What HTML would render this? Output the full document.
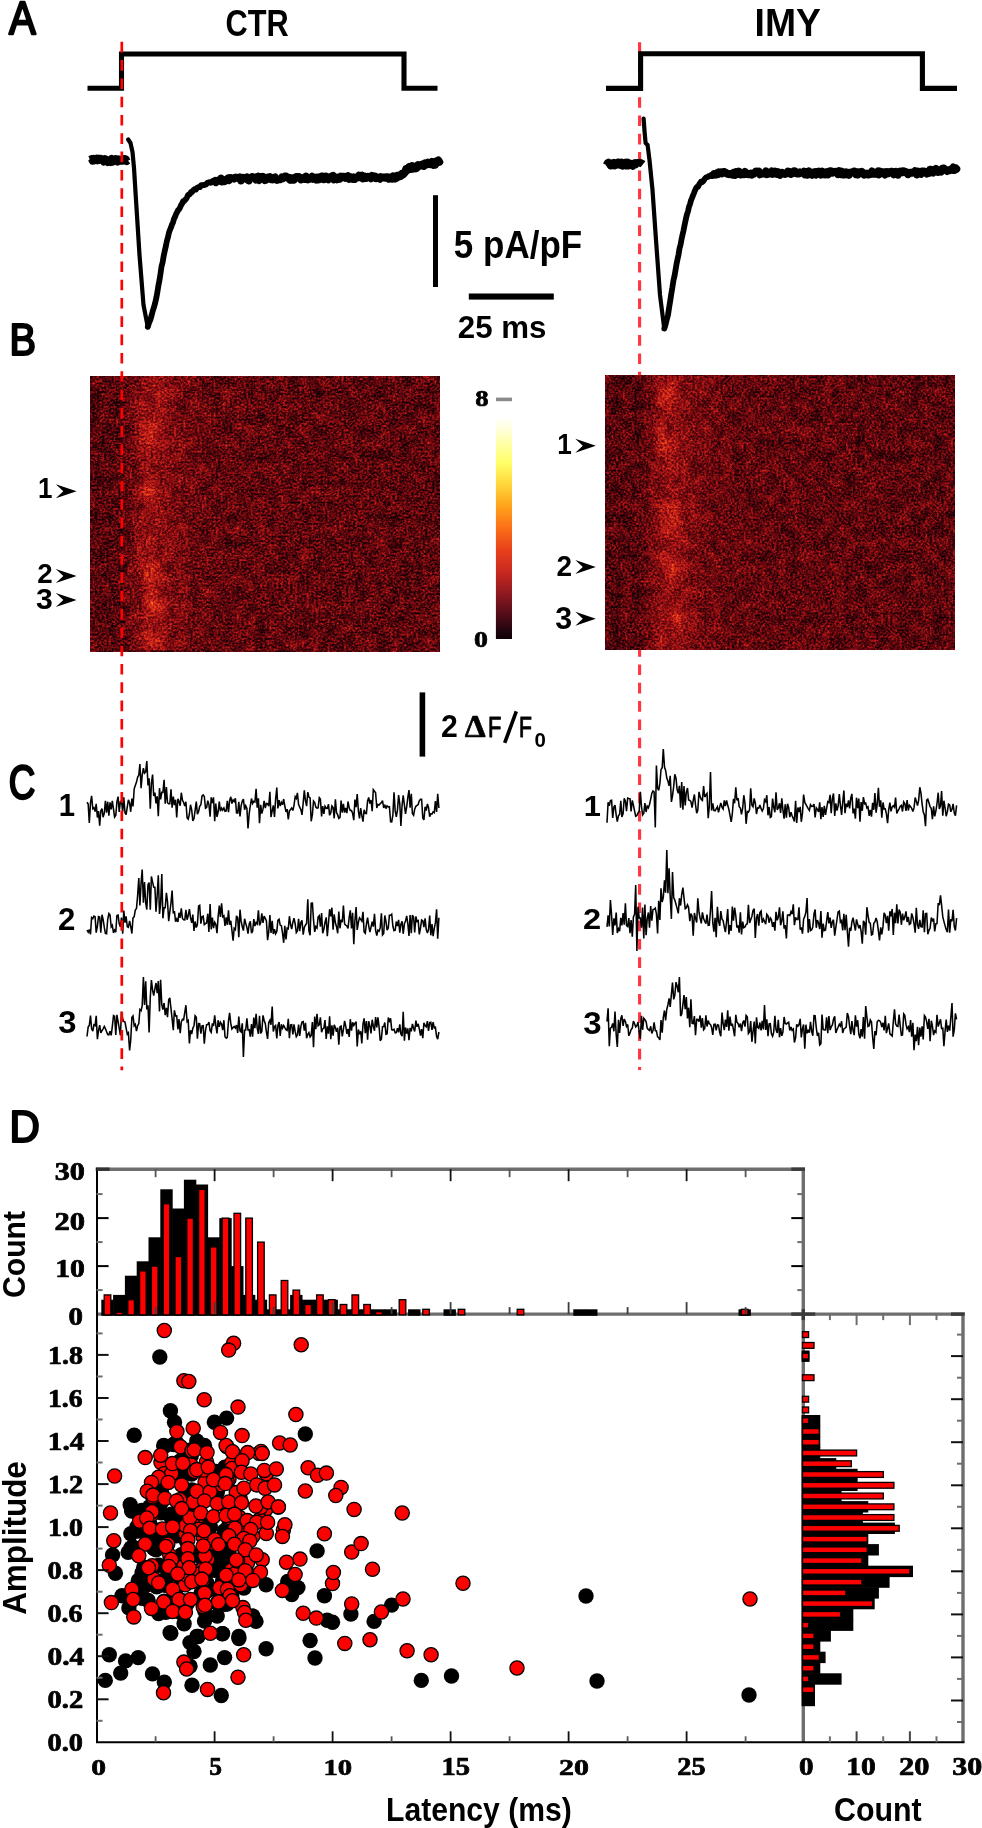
<!DOCTYPE html>
<html><head><meta charset="utf-8"><title>Figure</title>
<style>html,body{margin:0;padding:0;background:#fff}svg{display:block}text{fill:#000}</style></head>
<body><svg width="982" height="1828" viewBox="0 0 982 1828" font-family="Liberation Sans, sans-serif">
<rect width="982" height="1828" fill="#fff"/>
<line x1="639.6" y1="42.3" x2="639.6" y2="1070" stroke="#ff3540" stroke-width="3.1" stroke-dasharray="10.6 7.7"/>
<path d="M87.5 88.2 H121.5 V54 H404 V88.2 H437.5" fill="none" stroke="#000" stroke-width="5.1" stroke-linejoin="miter"/>
<path d="M606 88.4 H640.6 V53.8 H922.4 V88.4 H957" fill="none" stroke="#000" stroke-width="5.1" stroke-linejoin="miter"/>
<path d="M90.5 159.6 L91.5 158.9 L92.5 160.9 L93.5 158.6 L94.6 160.5 L95.6 159.8 L96.6 158.6 L97.6 160.4 L98.6 158.5 L99.6 160.1 L100.6 158.6 L101.6 158.7 L102.7 160.1 L103.7 161.7 L104.7 158.9 L105.7 159.3 L106.7 160.9 L107.7 162.2 L108.7 160.7 L109.8 160.0 L110.8 162.3 L111.8 158.6 L112.8 161.9 L113.8 159.6 L114.8 159.0 L115.8 158.9 L116.9 159.7 L117.9 161.7 L118.9 159.2 L119.9 160.8 L120.9 161.0 L121.9 160.0 L122.9 160.7 L123.9 158.7 L125.0 158.7 L126.0 159.3 L127.0 161.2 L128.0 160.5" fill="none" stroke="#000" stroke-width="7.6" stroke-linejoin="round"/>
<path d="M128.2 139.5 L130.5 143.0 L132.5 152.0 L134.0 168.0 L136.0 200.0 L139.5 255.0 L143.5 305.0 L147.8 327.0" fill="none" stroke="#000" stroke-width="4.2" stroke-linejoin="round" stroke-linecap="round"/>
<path d="M147.8 326.9 L149.0 323.0 L150.3 319.8 L151.5 315.9 L152.7 311.1 L153.9 307.5 L155.2 302.9 L156.4 297.5 L157.4 291.9 L158.4 285.6 L159.5 280.1 L160.5 273.6 L161.5 266.6 L162.6 262.4 L163.8 255.3 L164.9 250.4 L166.0 245.5 L167.0 240.5 L168.0 237.2 L169.0 232.5 L170.0 229.8 L171.0 227.4 L172.0 224.5 L173.0 222.4 L174.0 218.8 L175.0 216.9 L176.0 214.2 L177.0 212.4 L178.0 210.4 L179.0 209.4 L180.0 207.8 L181.0 205.2 L182.0 203.8 L183.0 201.4 L184.0 201.2 L185.0 199.8 L186.0 199.1 L187.0 197.4 L188.0 195.1 L189.0 194.4 L190.0 194.1 L191.0 192.0 L192.0 192.0 L193.0 190.6 L194.0 189.6 L195.0 188.9 L196.0 189.5 L197.0 187.8 L198.0 187.3 L199.0 187.0 L200.0 187.2 L201.0 185.2 L202.0 185.2 L203.0 185.0 L204.1 185.2 L205.1 184.7 L206.2 184.4 L207.2 182.9 L208.2 182.7 L209.3 182.2 L210.3 182.8 L211.3 182.7 L212.4 181.0 L213.4 180.8 L214.4 180.7 L215.4 180.5 L216.4 180.7 L217.5 180.6 L218.5 179.8 L219.5 179.1 L220.6 179.6 L221.6 179.3 L222.6 179.3" fill="none" stroke="#000" stroke-width="5.8" stroke-linejoin="round" stroke-linecap="round"/>
<path d="M215.0 180.8 L216.0 182.3 L217.0 181.2 L218.0 180.4 L219.0 180.8 L220.0 180.9 L221.0 178.4 L222.0 181.7 L223.0 181.2 L224.0 181.5 L225.0 181.1 L226.0 179.5 L227.0 179.4 L228.0 178.2 L229.0 180.3 L230.0 177.9 L231.0 177.9 L232.0 178.4 L233.0 178.2 L234.0 178.8 L235.0 177.6 L236.0 177.4 L237.0 177.9 L238.0 177.7 L239.0 178.7 L240.0 177.2 L241.0 180.6 L242.0 179.5 L243.0 177.6 L244.0 177.9 L245.0 178.3 L246.0 178.3 L247.0 177.3 L248.0 180.1 L249.0 180.6 L250.0 178.5 L251.0 178.5 L252.0 176.9 L253.0 177.0 L254.0 177.9 L255.0 177.6 L256.0 179.8 L257.0 177.2 L258.0 176.6 L259.0 180.3 L260.0 178.6 L261.0 177.1 L262.0 178.6 L263.0 176.6 L264.0 178.5 L265.0 180.3 L266.0 179.9 L267.0 179.2 L268.0 177.4 L269.0 177.8 L270.0 177.0 L271.0 179.4 L272.0 178.5 L273.0 179.4 L274.0 177.6 L275.0 177.2 L276.0 179.5 L277.0 180.2 L278.0 179.7 L279.0 179.5 L280.0 179.5 L281.0 179.2 L282.0 177.1 L283.0 178.3 L284.0 177.6 L285.0 176.3 L286.0 176.3 L287.0 177.3 L288.0 177.2 L289.0 178.9 L290.0 179.9 L291.0 177.9 L292.0 179.8 L293.0 180.0 L294.0 179.9 L295.0 177.5 L296.0 176.9 L297.0 176.9 L298.0 176.8 L299.0 176.8 L300.0 178.5 L301.0 179.6 L302.0 179.3 L303.0 177.9 L304.0 178.6 L305.0 179.1 L306.0 176.3 L307.0 178.6 L308.0 179.6 L309.0 179.0 L310.0 178.9 L311.0 177.8 L312.0 176.6 L313.0 179.0 L314.0 177.2 L315.0 179.1 L316.0 179.7 L317.0 177.4 L318.0 177.4 L319.0 179.6 L320.0 178.7 L321.0 176.5 L322.0 176.3 L323.0 176.4 L324.0 179.4 L325.0 179.0 L326.0 176.3 L327.0 179.0 L328.0 179.6 L329.0 178.3 L330.0 177.1 L331.0 177.9 L332.0 176.2 L333.0 175.7 L334.0 179.5 L335.0 178.2 L336.0 177.7 L337.0 179.4 L338.0 177.4 L339.0 179.1 L340.0 178.9 L341.0 176.4 L342.0 176.6 L343.0 176.7 L344.0 176.5 L345.0 177.9 L346.0 176.6 L347.0 177.2 L348.0 176.0 L349.0 179.2 L350.0 176.9 L351.0 177.3 L352.0 177.8 L353.0 179.1 L354.0 177.1 L355.0 179.1 L356.0 177.4 L357.0 177.6 L358.0 177.5 L359.0 175.5 L360.0 177.2 L361.0 176.1 L362.0 175.4 L363.0 178.6 L364.0 176.1 L365.0 177.2 L366.0 178.2 L367.0 177.6 L368.0 176.6 L369.0 177.4 L370.0 177.5 L371.0 178.4 L372.0 175.7 L373.0 177.5 L374.0 176.3 L375.0 176.4 L376.0 178.3 L377.0 177.3 L378.0 177.5 L379.0 178.3 L380.0 178.9 L381.0 177.0 L382.0 177.6 L383.0 177.2 L384.0 177.2 L385.0 177.9 L386.0 177.0 L387.0 177.3 L388.0 177.0 L389.0 178.9 L390.0 177.9 L391.0 178.6 L392.0 178.9 L393.0 176.1 L394.0 177.3 L395.0 178.8 L396.0 178.4 L397.0 175.6 L398.0 175.5 L399.0 176.8 L400.0 175.3 L401.0 176.0 L402.0 173.8 L403.0 174.7 L404.0 173.6 L405.0 172.6 L406.0 168.9 L407.0 170.5 L408.0 169.5 L409.0 166.8 L410.0 169.0 L411.0 169.2 L412.0 166.0 L413.0 168.8 L414.0 166.4 L415.0 166.6 L416.0 168.5 L417.0 167.7 L418.0 164.8 L419.0 165.7 L420.0 165.9 L421.0 165.0 L422.0 164.3 L423.0 164.6 L424.0 166.1 L425.0 163.1 L426.0 165.0 L427.1 164.3 L428.1 162.4 L429.1 163.5 L430.2 164.4 L431.2 163.8 L432.2 161.8 L433.3 165.2 L434.3 164.2 L435.4 164.7 L436.4 161.1 L437.4 161.5 L438.5 160.4 L439.5 162.0" fill="none" stroke="#000" stroke-width="7.6" stroke-linejoin="round" stroke-linecap="round"/>
<path d="M606.5 165.1 L607.5 163.1 L608.5 162.5 L609.5 163.7 L610.6 165.7 L611.6 165.3 L612.6 163.1 L613.6 162.7 L614.6 165.7 L615.6 164.4 L616.6 164.9 L617.7 162.4 L618.7 162.3 L619.7 164.9 L620.7 163.8 L621.7 162.4 L622.7 165.9 L623.7 164.7 L624.8 165.4 L625.8 162.5 L626.8 165.6 L627.8 162.4 L628.8 165.6 L629.8 164.0 L630.8 163.6 L631.8 164.4 L632.9 165.9 L633.9 163.3 L634.9 162.8 L635.9 164.3 L636.9 163.2 L637.9 162.7 L638.9 162.9 L640.0 162.5 L641.0 163.1 L642.0 163.5 L643.0 164.3" fill="none" stroke="#000" stroke-width="7.6" stroke-linejoin="round"/>
<path d="M643.6 118.5 L644.6 132.0 L645.6 143.0 L647.6 145.0 L649.5 160.0 L652.5 190.0 L656.0 240.0 L660.0 295.0 L664.3 329.0" fill="none" stroke="#000" stroke-width="4.2" stroke-linejoin="round" stroke-linecap="round"/>
<path d="M664.3 328.6 L665.5 324.8 L666.8 319.3 L668.0 315.0 L669.1 307.6 L670.2 301.1 L671.3 293.7 L672.4 287.4 L673.5 280.1 L674.5 276.0 L675.5 270.3 L676.5 264.2 L677.5 259.4 L678.5 254.8 L679.5 248.5 L680.5 245.0 L681.5 239.5 L682.5 234.8 L683.5 230.6 L684.7 224.5 L685.8 219.3 L687.0 214.3 L688.0 211.4 L689.0 206.7 L690.0 204.1 L691.0 200.4 L692.0 198.0 L693.0 195.4 L694.0 193.1 L695.0 190.4 L696.0 188.3 L697.0 186.9 L698.0 186.8 L699.0 184.7 L700.0 183.2 L701.0 181.8 L702.0 182.2 L703.0 181.4 L704.0 180.1 L705.0 178.5 L706.0 177.5 L707.0 177.1 L708.0 176.9 L709.0 175.9 L710.0 175.9 L711.0 175.1 L712.0 176.2 L713.0 176.0 L714.0 175.1 L715.0 174.4 L716.0 175.5 L717.0 174.2 L718.0 174.1 L719.0 173.3 L720.0 174.0" fill="none" stroke="#000" stroke-width="5.8" stroke-linejoin="round" stroke-linecap="round"/>
<path d="M714.0 174.0 L715.0 174.3 L716.0 174.4 L717.0 173.1 L718.0 174.2 L719.0 172.1 L720.0 173.1 L721.0 172.3 L722.0 173.5 L723.0 172.0 L724.0 171.8 L725.0 172.9 L726.0 172.5 L727.0 173.8 L728.0 173.5 L729.0 174.4 L730.0 173.9 L731.0 174.1 L732.0 174.7 L733.0 172.8 L734.0 172.5 L735.0 175.1 L736.0 171.8 L737.0 174.1 L738.0 173.8 L739.0 171.4 L740.0 174.5 L741.0 174.7 L742.0 173.7 L743.0 174.1 L744.0 174.4 L745.0 171.7 L746.0 173.3 L747.0 173.2 L748.0 174.5 L749.0 174.4 L750.0 174.5 L751.0 173.5 L752.0 174.7 L753.0 173.9 L754.0 173.9 L755.0 172.1 L756.0 171.3 L757.0 171.7 L758.0 172.6 L759.0 171.5 L760.0 174.5 L761.0 173.3 L762.0 173.6 L763.0 173.6 L764.0 173.8 L765.0 173.1 L766.0 171.1 L767.0 174.3 L768.0 174.1 L769.0 173.1 L770.0 173.2 L771.0 173.7 L772.0 171.3 L773.0 174.0 L774.0 172.1 L775.0 171.4 L776.0 172.1 L777.0 174.0 L778.0 171.9 L779.0 174.0 L780.0 175.0 L781.0 173.0 L782.0 172.6 L783.0 173.0 L784.0 173.8 L785.0 174.1 L786.0 173.5 L787.0 173.6 L788.0 171.3 L789.0 171.6 L790.0 172.0 L791.0 174.0 L792.0 172.2 L793.0 173.3 L794.0 171.1 L795.0 171.3 L796.0 172.1 L797.0 173.7 L798.0 173.8 L799.0 173.7 L800.0 172.2 L801.0 173.1 L802.0 172.9 L803.0 172.9 L804.0 171.5 L805.0 174.6 L806.0 171.8 L807.0 174.9 L808.0 174.7 L809.0 171.1 L810.0 172.8 L811.0 174.3 L812.0 174.9 L813.0 172.8 L814.0 172.1 L815.0 171.8 L816.0 174.8 L817.0 171.8 L818.0 173.3 L819.0 171.6 L820.0 173.1 L821.0 174.8 L822.0 171.5 L823.0 174.3 L824.0 173.0 L825.0 174.5 L826.0 173.8 L827.0 171.9 L828.0 174.6 L829.0 172.9 L830.0 171.1 L831.0 171.0 L832.0 173.0 L833.0 172.8 L834.0 172.2 L835.0 171.6 L836.0 172.4 L837.0 172.3 L838.0 174.4 L839.0 171.0 L840.0 174.0 L841.0 174.4 L842.0 171.5 L843.0 174.7 L844.0 173.9 L845.0 174.6 L846.0 172.2 L847.0 172.5 L848.0 172.6 L849.0 175.0 L850.0 173.4 L851.0 172.4 L852.0 172.7 L853.0 172.1 L854.0 171.2 L855.0 171.4 L856.0 174.3 L857.0 172.1 L858.0 174.7 L859.0 172.0 L860.0 172.1 L861.0 173.0 L862.0 171.8 L863.0 172.5 L864.0 174.8 L865.0 174.5 L866.0 174.2 L867.0 173.5 L868.0 174.7 L869.0 174.8 L870.0 173.2 L871.0 173.9 L872.0 171.2 L873.0 173.9 L874.0 172.8 L875.0 174.0 L876.0 173.6 L877.0 172.1 L878.0 171.2 L879.0 174.7 L880.0 171.5 L881.0 172.8 L882.0 172.3 L883.0 172.1 L884.0 173.9 L885.0 174.8 L886.0 172.0 L887.0 173.6 L888.0 172.1 L889.0 173.2 L890.0 172.5 L891.0 171.6 L892.0 171.6 L893.0 171.7 L894.0 174.5 L895.0 172.9 L896.0 171.8 L897.0 174.5 L898.0 174.9 L899.0 172.7 L900.0 171.4 L901.0 171.6 L902.0 171.2 L903.0 172.2 L904.0 171.2 L905.0 171.8 L906.0 171.9 L907.0 173.1 L908.0 174.4 L909.0 173.8 L910.0 172.5 L911.0 172.5 L912.0 172.9 L913.0 172.3 L914.0 172.2 L915.0 171.1 L916.0 171.9 L917.0 174.7 L918.0 171.3 L919.0 172.8 L920.0 173.3 L921.0 174.1 L922.0 171.4 L923.0 171.5 L924.0 171.3 L925.0 171.7 L926.0 171.8 L927.0 173.7 L928.0 173.2 L929.0 173.1 L930.0 169.6 L931.0 169.5 L932.0 172.1 L933.0 172.7 L934.0 170.9 L935.0 171.2 L936.0 168.7 L937.0 170.1 L938.0 172.1 L939.0 171.6 L940.0 171.6 L941.0 171.9 L942.0 168.9 L943.0 168.2 L944.0 168.3 L945.0 169.6 L946.0 170.2 L947.1 171.2 L948.1 170.3 L949.2 169.9 L950.2 170.3 L951.3 169.1 L952.3 169.4 L953.4 167.3 L954.4 170.2 L955.5 168.0 L956.5 169.0" fill="none" stroke="#000" stroke-width="7.6" stroke-linejoin="round" stroke-linecap="round"/>
<rect x="433" y="195.2" width="5" height="91.8" fill="#000"/>
<rect x="468.8" y="293.5" width="85" height="6.1" fill="#000"/>
<defs>
<filter id="heat" x="0" y="0" width="1" height="1" color-interpolation-filters="sRGB">
 <feTurbulence type="fractalNoise" baseFrequency="0.43 0.47" numOctaves="2" seed="11" result="n1"/>
 <feTurbulence type="fractalNoise" baseFrequency="0.09 0.08" numOctaves="2" seed="5" result="n2"/>
 <feComposite in="n1" in2="n2" operator="arithmetic" k1="0" k2="0.72" k3="0.28" k4="0" result="n"/>
 <feColorMatrix in="n" type="matrix" values="0.74 0 0 0 -0.262  0.74 0 0 0 -0.262  0.74 0 0 0 -0.262  0 0 0 0 1" result="g"/>
 <feComposite in="g" in2="SourceGraphic" operator="arithmetic" k1="0" k2="1" k3="1" k4="0" result="s"/>
 <feComponentTransfer in="s">
  <feFuncR type="table" tableValues="0.08 0.31 0.55 0.765 0.90 0.98 1 1 1 1 1"/>
  <feFuncG type="table" tableValues="0 0.02 0.055 0.118 0.235 0.43 0.65 0.85 1 1 1"/>
  <feFuncB type="table" tableValues="0.02 0.047 0.07 0.098 0.098 0.098 0.12 0.24 0.4 0.66 0.88"/>
  <feFuncA type="linear" slope="0" intercept="1"/>
 </feComponentTransfer>
</filter>
<filter id="heat2" x="0" y="0" width="1" height="1" color-interpolation-filters="sRGB">
 <feTurbulence type="fractalNoise" baseFrequency="0.43 0.47" numOctaves="2" seed="29" result="n1"/>
 <feTurbulence type="fractalNoise" baseFrequency="0.09 0.08" numOctaves="2" seed="8" result="n2"/>
 <feComposite in="n1" in2="n2" operator="arithmetic" k1="0" k2="0.72" k3="0.28" k4="0" result="n"/>
 <feColorMatrix in="n" type="matrix" values="0.74 0 0 0 -0.262  0.74 0 0 0 -0.262  0.74 0 0 0 -0.262  0 0 0 0 1" result="g"/>
 <feComposite in="g" in2="SourceGraphic" operator="arithmetic" k1="0" k2="1" k3="1" k4="0" result="s"/>
 <feComponentTransfer in="s">
  <feFuncR type="table" tableValues="0.08 0.31 0.55 0.765 0.90 0.98 1 1 1 1 1"/>
  <feFuncG type="table" tableValues="0 0.02 0.055 0.118 0.235 0.43 0.65 0.85 1 1 1"/>
  <feFuncB type="table" tableValues="0.02 0.047 0.07 0.098 0.098 0.098 0.12 0.24 0.4 0.66 0.88"/>
  <feFuncA type="linear" slope="0" intercept="1"/>
 </feComponentTransfer>
</filter>
<linearGradient id="stripeL" gradientUnits="userSpaceOnUse" x1="90" x2="440" y1="0" y2="0">
 <stop offset="0" stop-color="#000"/><stop offset="0.09" stop-color="#000"/><stop offset="0.155" stop-color="#181818"/><stop offset="0.2" stop-color="#181818"/>
 <stop offset="0.27" stop-color="#0c0c0c"/><stop offset="0.36" stop-color="#050505"/><stop offset="1" stop-color="#020202"/>
</linearGradient>
<linearGradient id="stripeR" gradientUnits="userSpaceOnUse" x1="605" x2="955" y1="0" y2="0">
 <stop offset="0" stop-color="#000"/><stop offset="0.10" stop-color="#000"/><stop offset="0.16" stop-color="#181818"/><stop offset="0.205" stop-color="#181818"/>
 <stop offset="0.28" stop-color="#0c0c0c"/><stop offset="0.37" stop-color="#050505"/><stop offset="1" stop-color="#020202"/>
</linearGradient>
<radialGradient id="blob"><stop offset="0" stop-color="#fff" stop-opacity="0.13"/><stop offset="1" stop-color="#fff" stop-opacity="0"/></radialGradient>
<linearGradient id="cbar" x1="0" x2="0" y1="0" y2="1">
 <stop offset="0" stop-color="#ffffff"/>
 <stop offset="0.05" stop-color="#ffffe0"/>
 <stop offset="0.12" stop-color="#ffffa8"/>
 <stop offset="0.21" stop-color="#ffff66"/>
 <stop offset="0.30" stop-color="#ffd83c"/>
 <stop offset="0.40" stop-color="#ffa41c"/>
 <stop offset="0.50" stop-color="#fc7018"/>
 <stop offset="0.60" stop-color="#e8401c"/>
 <stop offset="0.70" stop-color="#c82820"/>
 <stop offset="0.80" stop-color="#8c1820"/>
 <stop offset="0.90" stop-color="#4c0c18"/>
 <stop offset="0.97" stop-color="#1c040c"/>
 <stop offset="1" stop-color="#100208"/>
</linearGradient>
</defs>
<g filter="url(#heat)"><rect x="90.2" y="376" width="349.8" height="274" fill="url(#stripeL)"/><ellipse cx="150" cy="430" rx="16" ry="24" fill="url(#blob)"/><ellipse cx="148" cy="490" rx="14" ry="14" fill="url(#blob)"/><ellipse cx="152" cy="572" rx="16" ry="20" fill="url(#blob)"/><ellipse cx="155" cy="605" rx="16" ry="22" fill="url(#blob)"/><ellipse cx="150" cy="640" rx="14" ry="12" fill="url(#blob)"/></g>
<g filter="url(#heat2)"><rect x="605.3" y="375.5" width="349.7" height="274.3" fill="url(#stripeR)"/><ellipse cx="668" cy="395" rx="14" ry="18" fill="url(#blob)"/><ellipse cx="667" cy="446" rx="14" ry="16" fill="url(#blob)"/><ellipse cx="672" cy="520" rx="14" ry="30" fill="url(#blob)"/><ellipse cx="672" cy="566" rx="14" ry="14" fill="url(#blob)"/><ellipse cx="678" cy="618" rx="14" ry="16" fill="url(#blob)"/></g>
<rect x="495.9" y="416.8" width="16.1" height="222.2" fill="url(#cbar)"/>
<rect x="496" y="397.6" width="16" height="3.6" fill="#8a8a8a"/>
<path d="M76.6 491.2 L55.8 484.2 L63.3 491.2 L55.8 498.2 Z" fill="#000"/>
<path d="M76.6 575.9 L55.8 568.9 L63.3 575.9 L55.8 582.9 Z" fill="#000"/>
<path d="M76.6 599.9 L55.8 592.9 L63.3 599.9 L55.8 606.9 Z" fill="#000"/>
<path d="M595.8 445.7 L575.3 438.7 L582.8 445.7 L575.3 452.7 Z" fill="#000"/>
<path d="M595.8 567.1 L575.3 560.1 L582.8 567.1 L575.3 574.1 Z" fill="#000"/>
<path d="M595.8 618.8 L575.3 611.8 L582.8 618.8 L575.3 625.8 Z" fill="#000"/>
<rect x="419.6" y="692.4" width="5.6" height="64.2" fill="#000"/>
<path d="M516.3 711.3 L504.7 742.9" stroke="#000" stroke-width="3.6" fill="none"/>
<path d="M87.0 802.3 L88.2 804.1 L89.3 822.9 L90.5 802.9 L91.6 795.8 L92.8 808.7 L93.9 807.7 L95.1 811.6 L96.2 803.8 L97.4 817.5 L98.5 811.1 L99.7 825.6 L100.8 810.9 L102.0 808.6 L103.1 817.2 L104.3 813.2 L105.4 800.9 L106.6 812.7 L107.7 801.7 L108.9 815.8 L110.0 802.3 L111.2 809.4 L112.3 800.8 L113.5 809.2 L114.6 817.1 L115.8 815.3 L116.9 801.9 L118.1 796.6 L119.2 812.0 L120.4 801.5 L121.5 800.9 L122.7 811.8 L123.8 797.4 L125.0 812.7 L126.1 814.7 L127.3 806.8 L128.4 799.9 L129.6 803.0 L130.7 811.8 L131.9 798.6 L133.0 806.4 L134.2 788.8 L135.3 785.5 L136.5 782.1 L137.6 777.3 L138.8 775.1 L139.9 764.0 L141.1 788.3 L142.2 775.2 L143.4 768.2 L144.5 773.2 L145.7 771.9 L146.8 761.1 L148.0 785.5 L149.1 778.2 L150.3 808.7 L151.4 783.1 L152.6 774.6 L153.7 796.0 L154.9 792.5 L156.0 803.3 L157.2 796.2 L158.3 816.3 L159.5 788.2 L160.6 799.3 L161.8 792.3 L162.9 792.4 L164.1 779.9 L165.2 803.6 L166.4 787.1 L167.5 802.7 L168.7 803.8 L169.8 803.8 L171.0 789.3 L172.1 807.6 L173.3 796.7 L174.4 805.1 L175.6 799.7 L176.7 817.4 L177.9 798.8 L179.0 801.6 L180.2 805.7 L181.3 792.7 L182.5 800.3 L183.6 802.4 L184.8 806.1 L185.9 801.8 L187.1 817.9 L188.2 819.1 L189.4 814.0 L190.5 804.8 L191.7 809.9 L192.8 820.8 L194.0 818.6 L195.1 810.4 L196.3 801.5 L197.4 814.2 L198.6 811.5 L199.7 806.4 L200.9 804.8 L202.0 795.9 L203.2 794.9 L204.3 796.5 L205.5 808.2 L206.6 807.6 L207.8 800.7 L208.9 804.3 L210.1 816.7 L211.2 797.3 L212.4 803.1 L213.5 797.3 L214.7 821.1 L215.8 803.5 L217.0 816.9 L218.1 812.0 L219.3 801.6 L220.4 811.1 L221.6 808.0 L222.7 810.1 L223.9 807.9 L225.0 811.2 L226.2 810.9 L227.3 800.8 L228.5 812.2 L229.6 800.7 L230.8 796.8 L231.9 803.6 L233.1 799.9 L234.2 801.5 L235.4 798.4 L236.5 812.8 L237.7 813.1 L238.8 801.8 L240.0 816.5 L241.1 805.9 L242.3 801.0 L243.4 799.0 L244.6 809.7 L245.7 805.8 L246.9 808.5 L248.0 828.5 L249.2 813.6 L250.3 805.9 L251.5 798.5 L252.6 803.5 L253.8 801.4 L254.9 802.0 L256.1 788.9 L257.2 807.7 L258.4 798.3 L259.5 823.1 L260.7 804.8 L261.8 813.6 L263.0 809.2 L264.1 800.8 L265.3 808.2 L266.4 803.4 L267.6 803.7 L268.7 806.2 L269.9 791.9 L271.0 817.0 L272.2 810.8 L273.3 805.4 L274.5 817.0 L275.6 799.2 L276.8 787.6 L277.9 808.5 L279.1 800.1 L280.2 806.0 L281.4 802.4 L282.5 804.8 L283.7 799.0 L284.8 806.0 L286.0 811.9 L287.1 809.2 L288.3 819.4 L289.4 810.9 L290.6 809.5 L291.7 808.0 L292.9 810.5 L294.0 805.3 L295.2 796.7 L296.3 798.4 L297.4 792.9 L298.6 804.6 L299.7 807.1 L300.9 809.8 L302.0 814.8 L303.2 802.9 L304.3 790.4 L305.5 801.2 L306.6 806.1 L307.8 792.1 L308.9 797.0 L310.1 798.0 L311.2 821.3 L312.4 814.5 L313.5 801.0 L314.7 802.6 L315.8 807.0 L317.0 808.1 L318.1 807.9 L319.3 797.6 L320.4 799.0 L321.6 816.5 L322.7 806.1 L323.9 814.0 L325.0 806.2 L326.2 808.2 L327.3 808.4 L328.5 804.3 L329.6 815.3 L330.8 812.7 L331.9 806.0 L333.1 807.6 L334.2 818.3 L335.4 799.3 L336.5 812.6 L337.7 814.9 L338.8 818.3 L340.0 817.3 L341.1 800.5 L342.3 812.6 L343.4 803.9 L344.6 812.7 L345.7 807.8 L346.9 813.2 L348.0 801.5 L349.2 807.8 L350.3 810.5 L351.5 810.6 L352.6 813.3 L353.8 820.2 L354.9 799.6 L356.1 807.1 L357.2 794.1 L358.4 811.1 L359.5 818.4 L360.7 808.0 L361.8 815.4 L363.0 821.7 L364.1 809.8 L365.3 813.3 L366.4 813.6 L367.6 800.9 L368.7 797.5 L369.9 803.6 L371.0 800.0 L372.2 811.1 L373.3 789.7 L374.5 791.2 L375.6 792.7 L376.8 808.0 L377.9 804.5 L379.1 805.0 L380.2 803.6 L381.4 802.7 L382.5 800.5 L383.7 807.9 L384.8 804.7 L386.0 808.6 L387.1 805.8 L388.3 807.0 L389.4 806.7 L390.6 821.7 L391.7 821.8 L392.9 814.9 L394.0 792.3 L395.2 810.9 L396.3 816.9 L397.5 809.8 L398.6 795.1 L399.8 804.1 L400.9 826.0 L402.1 805.0 L403.2 795.4 L404.4 804.9 L405.5 813.8 L406.7 806.9 L407.8 797.6 L409.0 790.0 L410.1 807.8 L411.3 793.7 L412.4 813.5 L413.6 815.2 L414.7 809.1 L415.9 806.3 L417.0 805.4 L418.2 804.5 L419.3 800.8 L420.5 799.2 L421.6 799.2 L422.8 818.1 L423.9 819.9 L425.1 806.7 L426.2 810.5 L427.4 804.0 L428.5 807.4 L429.7 816.6 L430.8 813.9 L432.0 814.0 L433.1 811.8 L434.3 812.6 L435.4 801.1 L436.6 812.0 L437.7 793.7 L438.9 808.0" fill="none" stroke="#000" stroke-width="1.55" stroke-linejoin="miter" stroke-miterlimit="3"/>
<path d="M87.0 930.0 L88.2 932.2 L89.3 929.5 L90.5 934.3 L91.6 917.5 L92.8 918.7 L93.9 916.0 L95.1 916.7 L96.2 932.7 L97.4 926.1 L98.5 916.6 L99.7 917.0 L100.8 932.8 L102.0 914.8 L103.1 919.5 L104.3 927.4 L105.4 933.4 L106.6 933.8 L107.7 919.5 L108.9 913.5 L110.0 914.9 L111.2 926.8 L112.3 925.2 L113.5 933.0 L114.6 930.1 L115.8 932.1 L116.9 915.5 L118.1 915.0 L119.2 923.6 L120.4 926.9 L121.5 917.6 L122.7 933.8 L123.8 910.6 L125.0 922.7 L126.1 916.4 L127.3 926.8 L128.4 927.4 L129.6 920.9 L130.7 926.3 L131.9 933.5 L133.0 917.9 L134.2 916.7 L135.3 910.0 L136.5 908.4 L137.6 895.9 L138.8 878.0 L139.9 905.5 L141.1 882.6 L142.2 869.6 L143.4 902.8 L144.5 882.0 L145.7 902.9 L146.8 909.5 L148.0 884.4 L149.1 882.6 L150.3 909.7 L151.4 876.5 L152.6 882.2 L153.7 887.1 L154.9 887.4 L156.0 911.7 L157.2 895.2 L158.3 875.3 L159.5 913.9 L160.6 904.3 L161.8 874.0 L162.9 918.3 L164.1 907.7 L165.2 907.7 L166.4 892.9 L167.5 901.6 L168.7 921.2 L169.8 912.2 L171.0 902.8 L172.1 890.6 L173.3 913.5 L174.4 911.1 L175.6 921.7 L176.7 919.0 L177.9 921.9 L179.0 912.8 L180.2 917.7 L181.3 908.4 L182.5 918.5 L183.6 919.7 L184.8 919.8 L185.9 909.9 L187.1 919.7 L188.2 915.6 L189.4 909.1 L190.5 917.7 L191.7 922.9 L192.8 914.5 L194.0 930.9 L195.1 921.5 L196.3 927.5 L197.4 924.6 L198.6 905.9 L199.7 905.3 L200.9 923.7 L202.0 916.8 L203.2 916.2 L204.3 924.7 L205.5 923.5 L206.6 923.0 L207.8 913.7 L208.9 932.0 L210.1 904.1 L211.2 929.3 L212.4 917.5 L213.5 928.1 L214.7 922.2 L215.8 924.2 L217.0 933.2 L218.1 917.0 L219.3 905.5 L220.4 916.9 L221.6 903.4 L222.7 916.8 L223.9 915.8 L225.0 925.9 L226.2 917.3 L227.3 925.0 L228.5 910.4 L229.6 924.7 L230.8 920.8 L231.9 930.1 L233.1 940.6 L234.2 928.3 L235.4 929.7 L236.5 915.8 L237.7 917.7 L238.8 937.2 L240.0 909.7 L241.1 920.9 L242.3 926.7 L243.4 930.6 L244.6 918.8 L245.7 923.3 L246.9 927.5 L248.0 933.6 L249.2 923.9 L250.3 921.4 L251.5 933.1 L252.6 931.3 L253.8 919.2 L254.9 926.1 L256.1 922.5 L257.2 924.0 L258.4 910.3 L259.5 925.3 L260.7 922.9 L261.8 913.4 L263.0 923.0 L264.1 916.2 L265.3 918.3 L266.4 921.0 L267.6 940.1 L268.7 932.2 L269.9 915.0 L271.0 933.0 L272.2 920.9 L273.3 934.0 L274.5 929.2 L275.6 933.7 L276.8 931.4 L277.9 920.3 L279.1 919.2 L280.2 925.1 L281.4 925.8 L282.5 933.0 L283.7 942.8 L284.8 925.7 L286.0 939.5 L287.1 928.2 L288.3 928.8 L289.4 916.2 L290.6 924.8 L291.7 929.1 L292.9 922.2 L294.0 918.2 L295.2 924.0 L296.3 932.7 L297.4 931.1 L298.6 918.7 L299.7 931.1 L300.9 922.3 L302.0 920.3 L303.2 934.7 L304.3 927.5 L305.5 925.0 L306.6 923.4 L307.8 899.4 L308.9 931.0 L310.1 935.2 L311.2 903.1 L312.4 903.0 L313.5 919.7 L314.7 931.8 L315.8 926.5 L317.0 928.0 L318.1 917.1 L319.3 915.6 L320.4 926.6 L321.6 913.1 L322.7 933.3 L323.9 929.1 L325.0 922.5 L326.2 917.3 L327.3 936.2 L328.5 923.0 L329.6 909.2 L330.8 916.3 L331.9 907.7 L333.1 929.7 L334.2 914.3 L335.4 922.8 L336.5 926.7 L337.7 933.3 L338.8 911.6 L340.0 928.3 L341.1 919.6 L342.3 922.2 L343.4 905.5 L344.6 924.0 L345.7 925.1 L346.9 926.0 L348.0 928.4 L349.2 917.3 L350.3 910.4 L351.5 928.5 L352.6 912.7 L353.8 944.2 L354.9 920.7 L356.1 907.1 L357.2 930.0 L358.4 922.4 L359.5 917.8 L360.7 919.4 L361.8 921.1 L363.0 911.9 L364.1 931.9 L365.3 933.2 L366.4 924.1 L367.6 917.6 L368.7 926.0 L369.9 932.2 L371.0 927.3 L372.2 921.7 L373.3 926.6 L374.5 913.9 L375.6 930.3 L376.8 935.5 L377.9 930.1 L379.1 931.1 L380.2 927.9 L381.4 913.2 L382.5 935.0 L383.7 933.5 L384.8 915.5 L386.0 921.6 L387.1 930.2 L388.3 927.7 L389.4 915.2 L390.6 915.2 L391.7 914.1 L392.9 926.3 L394.0 930.7 L395.2 930.2 L396.3 921.5 L397.5 926.1 L398.6 919.8 L399.8 932.7 L400.9 924.3 L402.1 921.3 L403.2 933.8 L404.4 923.8 L405.5 921.3 L406.7 915.9 L407.8 923.5 L409.0 936.0 L410.1 915.1 L411.3 933.1 L412.4 915.0 L413.6 917.3 L414.7 932.4 L415.9 916.3 L417.0 921.5 L418.2 920.7 L419.3 934.4 L420.5 928.1 L421.6 920.0 L422.8 920.7 L423.9 927.1 L425.1 918.4 L426.2 929.3 L427.4 932.9 L428.5 929.7 L429.7 915.6 L430.8 935.3 L432.0 924.1 L433.1 936.2 L434.3 928.2 L435.4 922.9 L436.6 909.2 L437.7 938.7 L438.9 917.8" fill="none" stroke="#000" stroke-width="1.55" stroke-linejoin="miter" stroke-miterlimit="3"/>
<path d="M87.0 1036.5 L88.2 1026.9 L89.3 1025.5 L90.5 1015.5 L91.6 1028.7 L92.8 1031.1 L93.9 1024.8 L95.1 1025.6 L96.2 1015.9 L97.4 1039.1 L98.5 1030.7 L99.7 1025.2 L100.8 1032.8 L102.0 1030.7 L103.1 1028.8 L104.3 1026.5 L105.4 1028.6 L106.6 1031.7 L107.7 1034.6 L108.9 1034.8 L110.0 1031.3 L111.2 1035.3 L112.3 1026.7 L113.5 1015.6 L114.6 1016.2 L115.8 1035.0 L116.9 1014.9 L118.1 1021.6 L119.2 1028.1 L120.4 1035.5 L121.5 1011.5 L122.7 1018.9 L123.8 1021.5 L125.0 1022.0 L126.1 1028.0 L127.3 1034.3 L128.4 1032.9 L129.6 1050.4 L130.7 1040.5 L131.9 1017.2 L133.0 1015.9 L134.2 1025.8 L135.3 1024.3 L136.5 1031.1 L137.6 1025.7 L138.8 1023.6 L139.9 1009.5 L141.1 1010.7 L142.2 1005.6 L143.4 977.0 L144.5 1005.0 L145.7 981.2 L146.8 1009.4 L148.0 1005.2 L149.1 1032.5 L150.3 997.1 L151.4 980.0 L152.6 990.2 L153.7 995.5 L154.9 988.6 L156.0 983.0 L157.2 993.1 L158.3 981.0 L159.5 1011.4 L160.6 979.7 L161.8 1004.7 L162.9 1009.7 L164.1 1003.0 L165.2 1015.1 L166.4 1007.9 L167.5 1017.2 L168.7 999.7 L169.8 997.9 L171.0 1008.6 L172.1 1018.6 L173.3 1030.2 L174.4 1010.3 L175.6 1016.0 L176.7 1015.9 L177.9 1029.3 L179.0 1019.1 L180.2 1033.2 L181.3 1022.0 L182.5 1019.3 L183.6 1019.9 L184.8 1012.3 L185.9 1005.2 L187.1 1021.7 L188.2 1020.5 L189.4 1043.4 L190.5 1030.3 L191.7 1034.1 L192.8 1028.3 L194.0 1025.7 L195.1 1015.7 L196.3 1017.2 L197.4 1038.8 L198.6 1023.7 L199.7 1023.8 L200.9 1033.6 L202.0 1025.9 L203.2 1025.7 L204.3 1043.8 L205.5 1030.7 L206.6 1024.7 L207.8 1024.6 L208.9 1022.1 L210.1 1030.7 L211.2 1032.3 L212.4 1023.3 L213.5 1025.9 L214.7 1015.3 L215.8 1025.5 L217.0 1033.4 L218.1 1020.2 L219.3 1026.9 L220.4 1022.2 L221.6 1024.1 L222.7 1030.2 L223.9 1020.2 L225.0 1036.8 L226.2 1038.2 L227.3 1037.3 L228.5 1020.8 L229.6 1012.8 L230.8 1023.4 L231.9 1029.0 L233.1 1027.6 L234.2 1026.5 L235.4 1028.1 L236.5 1025.1 L237.7 1033.0 L238.8 1016.6 L240.0 1030.8 L241.1 1031.9 L242.3 1023.3 L243.4 1057.0 L244.6 1030.1 L245.7 1030.0 L246.9 1018.3 L248.0 1029.9 L249.2 1029.7 L250.3 1036.8 L251.5 1024.1 L252.6 1036.7 L253.8 1017.5 L254.9 1028.1 L256.1 1013.9 L257.2 1027.9 L258.4 1033.9 L259.5 1015.8 L260.7 1033.4 L261.8 1031.6 L263.0 1015.4 L264.1 1020.2 L265.3 1023.7 L266.4 1032.0 L267.6 1038.9 L268.7 1022.7 L269.9 1020.3 L271.0 1024.8 L272.2 1006.5 L273.3 1031.5 L274.5 1026.7 L275.6 1025.5 L276.8 1038.5 L277.9 1025.6 L279.1 1022.1 L280.2 1035.9 L281.4 1024.3 L282.5 1028.2 L283.7 1025.5 L284.8 1027.7 L286.0 1029.6 L287.1 1030.4 L288.3 1018.8 L289.4 1038.2 L290.6 1024.9 L291.7 1024.7 L292.9 1034.5 L294.0 1024.3 L295.2 1031.7 L296.3 1036.8 L297.4 1035.1 L298.6 1024.6 L299.7 1035.9 L300.9 1026.4 L302.0 1022.0 L303.2 1021.6 L304.3 1030.6 L305.5 1022.8 L306.6 1038.3 L307.8 1034.4 L308.9 1032.6 L310.1 1037.0 L311.2 1035.4 L312.4 1022.0 L313.5 1047.3 L314.7 1016.6 L315.8 1029.2 L317.0 1013.7 L318.1 1025.8 L319.3 1024.6 L320.4 1017.4 L321.6 1032.2 L322.7 1028.9 L323.9 1028.0 L325.0 1020.0 L326.2 1039.0 L327.3 1026.3 L328.5 1033.7 L329.6 1016.4 L330.8 1039.1 L331.9 1025.4 L333.1 1035.6 L334.2 1024.9 L335.4 1027.6 L336.5 1031.8 L337.7 1027.7 L338.8 1044.6 L340.0 1026.7 L341.1 1026.1 L342.3 1036.5 L343.4 1029.5 L344.6 1020.9 L345.7 1026.0 L346.9 1034.0 L348.0 1028.8 L349.2 1037.0 L350.3 1019.2 L351.5 1030.6 L352.6 1022.4 L353.8 1025.4 L354.9 1023.5 L356.1 1021.8 L357.2 1046.5 L358.4 1029.5 L359.5 1034.3 L360.7 1031.2 L361.8 1043.4 L363.0 1024.0 L364.1 1018.4 L365.3 1033.2 L366.4 1021.0 L367.6 1039.7 L368.7 1021.2 L369.9 1026.2 L371.0 1033.5 L372.2 1019.7 L373.3 1026.0 L374.5 1030.8 L375.6 1017.0 L376.8 1027.5 L377.9 1017.4 L379.1 1026.9 L380.2 1040.8 L381.4 1039.0 L382.5 1026.7 L383.7 1026.6 L384.8 1022.5 L386.0 1034.3 L387.1 1033.7 L388.3 1017.5 L389.4 1021.0 L390.6 1018.3 L391.7 1029.6 L392.9 1030.1 L394.0 1029.3 L395.2 1032.9 L396.3 1032.7 L397.5 1028.2 L398.6 1032.3 L399.8 1024.3 L400.9 1034.0 L402.1 1036.2 L403.2 1011.7 L404.4 1040.8 L405.5 1027.5 L406.7 1033.7 L407.8 1028.4 L409.0 1040.1 L410.1 1027.9 L411.3 1031.3 L412.4 1023.9 L413.6 1028.2 L414.7 1031.5 L415.9 1020.6 L417.0 1026.8 L418.2 1023.8 L419.3 1028.8 L420.5 1035.6 L421.6 1029.2 L422.8 1038.2 L423.9 1022.9 L425.1 1025.5 L426.2 1026.8 L427.4 1021.1 L428.5 1031.0 L429.7 1022.6 L430.8 1022.2 L432.0 1030.0 L433.1 1022.1 L434.3 1027.9 L435.4 1027.2 L436.6 1036.5 L437.7 1039.1 L438.9 1032.0" fill="none" stroke="#000" stroke-width="1.55" stroke-linejoin="miter" stroke-miterlimit="3"/>
<path d="M607.0 822.7 L608.1 802.3 L609.3 805.8 L610.4 800.6 L611.6 800.2 L612.7 817.9 L613.9 807.0 L615.0 805.1 L616.2 815.2 L617.3 821.7 L618.5 815.4 L619.6 814.6 L620.8 800.8 L621.9 816.9 L623.1 813.5 L624.2 798.2 L625.4 800.9 L626.5 811.1 L627.7 798.1 L628.8 798.5 L630.0 798.7 L631.1 811.5 L632.3 800.3 L633.4 805.1 L634.6 811.1 L635.7 816.2 L636.9 815.5 L638.0 813.0 L639.2 811.4 L640.3 791.9 L641.5 806.4 L642.6 815.0 L643.8 813.3 L644.9 803.0 L646.1 812.0 L647.2 806.2 L648.4 807.8 L649.5 804.5 L650.7 799.1 L651.8 793.5 L653.0 791.0 L654.1 791.9 L655.3 827.4 L656.4 765.6 L657.6 788.3 L658.7 790.4 L659.9 783.4 L661.0 769.7 L662.2 767.7 L663.3 749.0 L664.5 767.1 L665.6 770.4 L666.8 778.0 L667.9 781.1 L669.1 785.7 L670.2 775.9 L671.4 801.9 L672.5 795.8 L673.7 786.4 L674.8 774.3 L676.0 778.2 L677.1 789.6 L678.3 793.2 L679.4 785.8 L680.6 807.6 L681.7 782.1 L682.9 809.7 L684.0 786.0 L685.2 805.5 L686.3 792.3 L687.5 788.0 L688.6 799.9 L689.8 800.4 L690.9 801.6 L692.1 807.7 L693.2 800.5 L694.4 794.5 L695.5 804.7 L696.7 813.1 L697.8 810.3 L699.0 791.8 L700.1 796.6 L701.3 799.5 L702.4 800.4 L703.6 786.0 L704.7 797.0 L705.9 795.0 L707.0 793.5 L708.2 818.1 L709.3 806.5 L710.5 772.0 L711.6 810.6 L712.8 803.3 L713.9 810.4 L715.1 810.8 L716.2 808.9 L717.4 806.8 L718.5 812.3 L719.7 807.2 L720.8 802.9 L722.0 807.1 L723.1 808.9 L724.3 800.3 L725.4 806.0 L726.6 800.3 L727.7 805.1 L728.9 809.5 L730.0 815.3 L731.2 821.8 L732.3 813.8 L733.5 798.8 L734.6 803.2 L735.8 787.4 L736.9 800.3 L738.1 798.2 L739.2 806.7 L740.4 808.1 L741.5 814.3 L742.7 808.1 L743.8 795.2 L745.0 803.6 L746.1 823.8 L747.3 811.6 L748.4 812.2 L749.6 809.5 L750.7 788.4 L751.9 805.3 L753.0 806.8 L754.2 798.4 L755.3 803.2 L756.5 814.0 L757.6 807.9 L758.8 808.2 L759.9 805.0 L761.1 808.7 L762.2 811.0 L763.4 808.6 L764.5 799.7 L765.7 801.6 L766.8 795.2 L768.0 815.3 L769.1 807.2 L770.3 817.3 L771.4 816.5 L772.6 798.6 L773.7 807.0 L774.9 812.3 L776.0 792.3 L777.2 809.8 L778.3 808.0 L779.5 803.3 L780.6 812.9 L781.8 798.4 L782.9 809.7 L784.1 818.6 L785.2 804.4 L786.4 817.6 L787.5 803.8 L788.7 807.6 L789.8 817.1 L791.0 812.3 L792.1 815.7 L793.3 818.4 L794.4 821.4 L795.6 800.8 L796.7 823.0 L797.9 807.5 L799.0 812.0 L800.2 806.9 L801.3 821.8 L802.5 812.9 L803.6 794.5 L804.8 802.4 L805.9 804.4 L807.1 806.7 L808.2 808.6 L809.4 810.4 L810.5 804.7 L811.7 806.4 L812.8 806.2 L814.0 804.1 L815.1 817.4 L816.3 807.8 L817.4 809.4 L818.6 811.9 L819.7 802.4 L820.9 819.3 L822.0 807.0 L823.2 816.8 L824.3 805.8 L825.5 814.9 L826.6 808.4 L827.8 801.7 L828.9 802.6 L830.1 794.8 L831.2 813.2 L832.4 798.0 L833.5 793.5 L834.7 816.0 L835.8 803.4 L837.0 810.6 L838.1 806.0 L839.3 794.2 L840.4 805.1 L841.6 814.9 L842.7 802.5 L843.9 790.5 L845.0 813.2 L846.2 803.7 L847.3 807.0 L848.5 800.3 L849.6 808.5 L850.8 798.0 L851.9 793.9 L853.1 813.4 L854.2 808.6 L855.4 818.6 L856.5 797.7 L857.7 808.2 L858.8 798.5 L860.0 821.8 L861.1 802.0 L862.3 810.8 L863.4 797.1 L864.6 803.7 L865.7 803.1 L866.9 807.9 L868.0 806.8 L869.2 815.8 L870.3 809.8 L871.5 816.6 L872.6 802.8 L873.8 809.8 L874.9 793.1 L876.1 812.7 L877.2 804.2 L878.4 787.8 L879.5 806.8 L880.7 800.4 L881.8 817.7 L883.0 802.5 L884.1 809.0 L885.3 808.8 L886.4 813.9 L887.6 823.2 L888.7 809.6 L889.9 802.7 L891.0 811.3 L892.2 806.8 L893.3 805.7 L894.5 807.2 L895.6 797.5 L896.8 813.5 L897.9 810.9 L899.1 808.8 L900.2 806.3 L901.4 805.4 L902.5 811.5 L903.7 801.9 L904.8 803.5 L906.0 811.0 L907.1 800.1 L908.3 810.5 L909.4 805.2 L910.6 806.7 L911.7 808.4 L912.9 811.5 L914.0 807.9 L915.2 797.6 L916.3 801.1 L917.5 805.6 L918.6 800.6 L919.8 787.2 L920.9 792.7 L922.1 803.9 L923.2 811.9 L924.4 814.9 L925.5 826.1 L926.7 800.2 L927.8 799.2 L929.0 803.1 L930.1 806.6 L931.3 808.5 L932.4 819.1 L933.6 806.4 L934.7 816.4 L935.9 810.8 L937.0 803.5 L938.2 792.7 L939.3 808.9 L940.5 805.9 L941.6 791.1 L942.8 815.6 L943.9 800.7 L945.1 808.0 L946.2 816.2 L947.4 811.4 L948.5 804.1 L949.7 805.0 L950.8 811.8 L952.0 809.2 L953.1 803.9 L954.3 813.0 L955.4 815.7 L956.6 805.4" fill="none" stroke="#000" stroke-width="1.55" stroke-linejoin="miter" stroke-miterlimit="3"/>
<path d="M607.0 926.9 L608.1 915.3 L609.3 926.5 L610.4 900.0 L611.6 915.3 L612.7 934.9 L613.9 918.3 L615.0 925.5 L616.2 912.5 L617.3 933.0 L618.5 928.8 L619.6 931.3 L620.8 917.8 L621.9 925.3 L623.1 913.1 L624.2 924.7 L625.4 903.4 L626.5 925.5 L627.7 926.5 L628.8 918.0 L630.0 933.1 L631.1 920.1 L632.3 936.7 L633.4 916.9 L634.6 914.4 L635.7 885.0 L636.9 950.9 L638.0 906.8 L639.2 917.9 L640.3 917.9 L641.5 927.7 L642.6 907.6 L643.8 938.5 L644.9 904.5 L646.1 935.2 L647.2 918.8 L648.4 912.5 L649.5 927.8 L650.7 906.1 L651.8 920.6 L653.0 909.4 L654.1 909.3 L655.3 908.1 L656.4 914.1 L657.6 933.4 L658.7 900.7 L659.9 920.0 L661.0 888.2 L662.2 902.0 L663.3 897.3 L664.5 880.4 L665.6 892.8 L666.8 850.0 L667.9 893.2 L669.1 868.2 L670.2 896.2 L671.4 918.9 L672.5 872.1 L673.7 897.6 L674.8 900.1 L676.0 904.4 L677.1 908.4 L678.3 913.4 L679.4 898.2 L680.6 905.5 L681.7 894.6 L682.9 887.6 L684.0 897.8 L685.2 908.7 L686.3 907.9 L687.5 904.8 L688.6 907.4 L689.8 921.1 L690.9 913.7 L692.1 916.2 L693.2 935.6 L694.4 913.0 L695.5 918.4 L696.7 922.5 L697.8 898.3 L699.0 912.2 L700.1 918.0 L701.3 923.4 L702.4 912.3 L703.6 918.5 L704.7 921.3 L705.9 923.6 L707.0 914.6 L708.2 925.3 L709.3 925.1 L710.5 910.2 L711.6 891.0 L712.8 922.6 L713.9 931.6 L715.1 917.7 L716.2 937.3 L717.4 906.7 L718.5 921.2 L719.7 925.9 L720.8 911.0 L722.0 919.1 L723.1 920.6 L724.3 927.2 L725.4 932.1 L726.6 921.3 L727.7 909.0 L728.9 934.5 L730.0 925.1 L731.2 930.8 L732.3 906.6 L733.5 920.7 L734.6 907.7 L735.8 915.9 L736.9 927.5 L738.1 925.4 L739.2 932.6 L740.4 912.3 L741.5 934.4 L742.7 921.6 L743.8 927.7 L745.0 927.0 L746.1 924.5 L747.3 923.7 L748.4 904.7 L749.6 922.9 L750.7 919.7 L751.9 916.4 L753.0 910.5 L754.2 908.7 L755.3 937.9 L756.5 917.8 L757.6 914.0 L758.8 925.6 L759.9 912.6 L761.1 911.1 L762.2 922.8 L763.4 919.0 L764.5 921.3 L765.7 924.2 L766.8 914.2 L768.0 915.8 L769.1 922.7 L770.3 917.9 L771.4 919.6 L772.6 926.9 L773.7 922.1 L774.9 930.6 L776.0 911.8 L777.2 920.3 L778.3 917.2 L779.5 907.3 L780.6 925.3 L781.8 920.7 L782.9 911.4 L784.1 928.6 L785.2 925.0 L786.4 938.5 L787.5 915.1 L788.7 914.8 L789.8 915.6 L791.0 911.7 L792.1 914.1 L793.3 904.3 L794.4 925.1 L795.6 917.3 L796.7 919.5 L797.9 919.5 L799.0 907.4 L800.2 929.6 L801.3 927.4 L802.5 933.6 L803.6 919.2 L804.8 916.4 L805.9 912.1 L807.1 898.0 L808.2 932.8 L809.4 919.1 L810.5 930.6 L811.7 929.8 L812.8 926.9 L814.0 914.0 L815.1 909.5 L816.3 927.8 L817.4 920.0 L818.6 923.2 L819.7 929.0 L820.9 911.1 L822.0 937.7 L823.2 923.6 L824.3 930.6 L825.5 930.0 L826.6 921.0 L827.8 912.1 L828.9 923.4 L830.1 917.6 L831.2 927.9 L832.4 921.8 L833.5 919.7 L834.7 935.6 L835.8 927.5 L837.0 919.5 L838.1 911.9 L839.3 911.1 L840.4 922.2 L841.6 920.6 L842.7 930.4 L843.9 913.7 L845.0 930.2 L846.2 914.9 L847.3 931.0 L848.5 946.6 L849.6 927.7 L850.8 930.9 L851.9 921.8 L853.1 917.7 L854.2 924.3 L855.4 930.5 L856.5 919.4 L857.7 924.1 L858.8 928.2 L860.0 925.1 L861.1 931.3 L862.3 943.7 L863.4 920.8 L864.6 922.7 L865.7 934.7 L866.9 907.2 L868.0 915.2 L869.2 922.5 L870.3 923.2 L871.5 934.9 L872.6 934.3 L873.8 923.4 L874.9 921.9 L876.1 918.0 L877.2 921.7 L878.4 931.0 L879.5 940.4 L880.7 927.3 L881.8 934.5 L883.0 926.4 L884.1 912.9 L885.3 915.3 L886.4 923.1 L887.6 915.9 L888.7 930.6 L889.9 911.2 L891.0 916.3 L892.2 909.0 L893.3 934.9 L894.5 912.7 L895.6 923.2 L896.8 904.3 L897.9 923.5 L899.1 909.5 L900.2 912.2 L901.4 924.8 L902.5 913.7 L903.7 920.3 L904.8 917.1 L906.0 911.3 L907.1 922.0 L908.3 916.9 L909.4 924.4 L910.6 923.6 L911.7 913.4 L912.9 917.5 L914.0 923.7 L915.2 932.7 L916.3 907.8 L917.5 924.6 L918.6 928.9 L919.8 919.8 L920.9 926.6 L922.1 926.9 L923.2 910.4 L924.4 932.3 L925.5 913.7 L926.7 913.4 L927.8 934.3 L929.0 930.2 L930.1 928.3 L931.3 917.5 L932.4 920.7 L933.6 918.5 L934.7 931.4 L935.9 923.6 L937.0 923.5 L938.2 903.0 L939.3 905.1 L940.5 895.3 L941.6 905.4 L942.8 916.9 L943.9 921.4 L945.1 925.9 L946.2 929.4 L947.4 932.3 L948.5 909.5 L949.7 932.6 L950.8 919.2 L952.0 921.3 L953.1 909.9 L954.3 926.6 L955.4 930.5 L956.6 918.2" fill="none" stroke="#000" stroke-width="1.55" stroke-linejoin="miter" stroke-miterlimit="3"/>
<path d="M607.0 1021.5 L608.1 1008.2 L609.3 1046.2 L610.4 1028.1 L611.6 1027.3 L612.7 1023.4 L613.9 1031.3 L615.0 1011.6 L616.2 1034.7 L617.3 1047.0 L618.5 1019.9 L619.6 1033.0 L620.8 1018.6 L621.9 1015.3 L623.1 1025.9 L624.2 1019.1 L625.4 1021.4 L626.5 1026.5 L627.7 1024.5 L628.8 1035.8 L630.0 1033.0 L631.1 1029.6 L632.3 1028.1 L633.4 1021.1 L634.6 1023.8 L635.7 1027.0 L636.9 1025.7 L638.0 1022.1 L639.2 1031.9 L640.3 1038.8 L641.5 1015.9 L642.6 1029.8 L643.8 1018.3 L644.9 1019.7 L646.1 1021.6 L647.2 1028.2 L648.4 1029.6 L649.5 1030.5 L650.7 1026.3 L651.8 1033.5 L653.0 1030.6 L654.1 1022.3 L655.3 1030.6 L656.4 1030.9 L657.6 1036.8 L658.7 1037.8 L659.9 1039.9 L661.0 1020.1 L662.2 1032.6 L663.3 1017.3 L664.5 1010.5 L665.6 1020.3 L666.8 1009.2 L667.9 1005.0 L669.1 998.3 L670.2 1007.0 L671.4 994.3 L672.5 982.5 L673.7 999.4 L674.8 995.4 L676.0 982.1 L677.1 985.9 L678.3 992.3 L679.4 977.0 L680.6 1016.1 L681.7 1014.2 L682.9 1004.6 L684.0 995.0 L685.2 1009.2 L686.3 997.0 L687.5 1018.4 L688.6 1007.7 L689.8 1027.2 L690.9 999.3 L692.1 1023.3 L693.2 1023.5 L694.4 1016.1 L695.5 1035.2 L696.7 1019.3 L697.8 1019.4 L699.0 1021.7 L700.1 1015.5 L701.3 1027.6 L702.4 1018.2 L703.6 1029.8 L704.7 1028.5 L705.9 1015.4 L707.0 1026.5 L708.2 1020.6 L709.3 1023.8 L710.5 1024.5 L711.6 1027.4 L712.8 1034.9 L713.9 1024.4 L715.1 1024.1 L716.2 1030.4 L717.4 1024.7 L718.5 1025.0 L719.7 1032.5 L720.8 1036.2 L722.0 1012.5 L723.1 1023.3 L724.3 1030.1 L725.4 1019.6 L726.6 1027.0 L727.7 1010.4 L728.9 1030.7 L730.0 1016.5 L731.2 1026.0 L732.3 1023.6 L733.5 1029.9 L734.6 1036.3 L735.8 1014.9 L736.9 1022.0 L738.1 1023.6 L739.2 1027.3 L740.4 1023.5 L741.5 1031.1 L742.7 1022.8 L743.8 1020.5 L745.0 1026.6 L746.1 1015.4 L747.3 1016.9 L748.4 1033.5 L749.6 1031.8 L750.7 1021.1 L751.9 1041.8 L753.0 1031.9 L754.2 1021.5 L755.3 1043.4 L756.5 1017.4 L757.6 1027.3 L758.8 1028.3 L759.9 1022.5 L761.1 1030.5 L762.2 1020.8 L763.4 1029.4 L764.5 1005.0 L765.7 1030.0 L766.8 1019.4 L768.0 1036.2 L769.1 1023.9 L770.3 1023.6 L771.4 1033.8 L772.6 1036.3 L773.7 1032.1 L774.9 1015.7 L776.0 1029.7 L777.2 1033.0 L778.3 1019.9 L779.5 1037.3 L780.6 1028.0 L781.8 1035.8 L782.9 1032.0 L784.1 1017.0 L785.2 1023.5 L786.4 1024.0 L787.5 1022.9 L788.7 1022.3 L789.8 1030.5 L791.0 1026.9 L792.1 1030.2 L793.3 1029.0 L794.4 1042.5 L795.6 1037.7 L796.7 1024.4 L797.9 1026.2 L799.0 1024.6 L800.2 1018.8 L801.3 1037.5 L802.5 1028.4 L803.6 1024.5 L804.8 1048.7 L805.9 1024.7 L807.1 1033.3 L808.2 1030.6 L809.4 1032.7 L810.5 1021.9 L811.7 1031.7 L812.8 1035.7 L814.0 1015.6 L815.1 1015.7 L816.3 1027.8 L817.4 1035.9 L818.6 1032.9 L819.7 1044.9 L820.9 1043.6 L822.0 1014.5 L823.2 1029.5 L824.3 1030.0 L825.5 1029.9 L826.6 1017.2 L827.8 1033.2 L828.9 1016.0 L830.1 1030.1 L831.2 1026.9 L832.4 1025.0 L833.5 1019.3 L834.7 1016.4 L835.8 1032.9 L837.0 1029.7 L838.1 1027.3 L839.3 1024.3 L840.4 1026.1 L841.6 1021.3 L842.7 1033.0 L843.9 1028.9 L845.0 1028.1 L846.2 1027.1 L847.3 1013.1 L848.5 1016.7 L849.6 1026.5 L850.8 1034.2 L851.9 1021.1 L853.1 1030.5 L854.2 1035.1 L855.4 1015.2 L856.5 1026.7 L857.7 1020.2 L858.8 1034.2 L860.0 1038.3 L861.1 1029.2 L862.3 1036.6 L863.4 1017.0 L864.6 1038.7 L865.7 1006.0 L866.9 1017.1 L868.0 1026.4 L869.2 1025.7 L870.3 1020.0 L871.5 1022.1 L872.6 1036.8 L873.8 1049.0 L874.9 1031.1 L876.1 1035.3 L877.2 1021.7 L878.4 1020.3 L879.5 1020.6 L880.7 1022.3 L881.8 1027.0 L883.0 1022.8 L884.1 1030.5 L885.3 1015.7 L886.4 1033.1 L887.6 1028.2 L888.7 1023.3 L889.9 1033.9 L891.0 1034.9 L892.2 1036.1 L893.3 1021.8 L894.5 1009.2 L895.6 1023.9 L896.8 1026.2 L897.9 1026.5 L899.1 1014.7 L900.2 1025.6 L901.4 1035.3 L902.5 1035.0 L903.7 1013.9 L904.8 1015.4 L906.0 1024.4 L907.1 1028.8 L908.3 1026.9 L909.4 1032.2 L910.6 1020.1 L911.7 1036.8 L912.9 1022.7 L914.0 1050.3 L915.2 1034.6 L916.3 1041.1 L917.5 1026.9 L918.6 1045.3 L919.8 1027.5 L920.9 1036.7 L922.1 1026.3 L923.2 1039.5 L924.4 1015.5 L925.5 1017.0 L926.7 1021.8 L927.8 1028.9 L929.0 1018.8 L930.1 1041.1 L931.3 1020.7 L932.4 1025.9 L933.6 1035.1 L934.7 1030.9 L935.9 1032.3 L937.0 1014.9 L938.2 1026.6 L939.3 1023.0 L940.5 1019.3 L941.6 1028.6 L942.8 1028.3 L943.9 1046.3 L945.1 1030.9 L946.2 1019.7 L947.4 1031.8 L948.5 1025.6 L949.7 1030.6 L950.8 1017.8 L952.0 1003.0 L953.1 1036.6 L954.3 1029.5 L955.4 1013.3 L956.6 1019.3" fill="none" stroke="#000" stroke-width="1.55" stroke-linejoin="miter" stroke-miterlimit="3"/>
<line x1="121.8" y1="41.8" x2="121.8" y2="1070.3" stroke="#ff0000" stroke-width="2.7" stroke-dasharray="10.6 7.7"/>
<path d="M95.6 1169.2 H803.3 V1742.3" fill="none" stroke="#6e6e6e" stroke-width="3.4"/><path d="M96.6 1314.1 H963.0 V1742.3" fill="none" stroke="#6e6e6e" stroke-width="3.4" stroke-linejoin="miter"/><path d="M791.3 1314.1 H815.3" stroke="#3a3a3a" stroke-width="3.4"/><path d="M803.3 1309.1 V1320.1" stroke="#3a3a3a" stroke-width="3.4"/><path d="M791.3 1169.2 H805.0" stroke="#3a3a3a" stroke-width="3.4"/><path d="M951.0 1314.1 H964.7" stroke="#3a3a3a" stroke-width="3.4"/>
<g fill="#000"><rect x="101.3" y="1299.7" width="12.4" height="16.1"/><rect x="113.1" y="1294.9" width="12.4" height="20.9"/><rect x="124.9" y="1275.7" width="12.4" height="40.1"/><rect x="136.7" y="1261.3" width="12.4" height="54.5"/><rect x="148.5" y="1237.3" width="12.4" height="78.5"/><rect x="160.3" y="1189.3" width="12.4" height="126.5"/><rect x="172.1" y="1208.5" width="12.4" height="107.3"/><rect x="183.9" y="1179.7" width="12.4" height="136.1"/><rect x="195.7" y="1184.5" width="12.4" height="131.3"/><rect x="207.5" y="1237.3" width="12.4" height="78.5"/><rect x="219.3" y="1218.1" width="12.4" height="97.7"/><rect x="231.1" y="1266.1" width="12.4" height="49.7"/><rect x="242.9" y="1294.9" width="12.4" height="20.9"/><rect x="254.7" y="1299.7" width="12.4" height="16.1"/><rect x="266.5" y="1309.3" width="12.4" height="6.5"/><rect x="278.3" y="1309.3" width="12.4" height="6.5"/><rect x="290.1" y="1294.9" width="12.4" height="20.9"/><rect x="301.9" y="1299.7" width="12.4" height="16.1"/><rect x="313.7" y="1299.7" width="12.4" height="16.1"/><rect x="325.5" y="1299.7" width="12.4" height="16.1"/><rect x="337.3" y="1309.3" width="12.4" height="6.5"/><rect x="349.1" y="1309.3" width="12.4" height="6.5"/><rect x="360.9" y="1309.3" width="12.4" height="6.5"/><rect x="372.7" y="1309.3" width="12.4" height="6.5"/><rect x="384.5" y="1309.3" width="12.4" height="6.5"/><rect x="408.1" y="1309.3" width="12.4" height="6.5"/><rect x="443.5" y="1309.3" width="12.4" height="6.5"/><rect x="573.3" y="1309.3" width="12.4" height="6.5"/><rect x="585.1" y="1309.3" width="12.4" height="6.5"/><rect x="738.5" y="1309.3" width="12.4" height="6.5"/></g>
<g fill="#fe0000" stroke="#000" stroke-width="1.3"><rect x="104.2" y="1294.9" width="6.6" height="20.0"/><rect x="116.0" y="1312.2" width="6.6" height="2.7"/><rect x="127.8" y="1299.7" width="6.6" height="15.2"/><rect x="139.6" y="1270.9" width="6.6" height="44.0"/><rect x="151.4" y="1266.1" width="6.6" height="48.8"/><rect x="163.2" y="1203.7" width="6.6" height="111.2"/><rect x="175.0" y="1256.5" width="6.6" height="58.4"/><rect x="186.8" y="1218.1" width="6.6" height="96.8"/><rect x="198.6" y="1189.3" width="6.6" height="125.6"/><rect x="210.4" y="1246.9" width="6.6" height="68.0"/><rect x="222.2" y="1218.1" width="6.6" height="96.8"/><rect x="234.0" y="1213.3" width="6.6" height="101.6"/><rect x="245.8" y="1218.1" width="6.6" height="96.8"/><rect x="257.6" y="1242.1" width="6.6" height="72.8"/><rect x="269.4" y="1294.9" width="6.6" height="20.0"/><rect x="281.2" y="1280.5" width="6.6" height="34.4"/><rect x="293.0" y="1290.1" width="6.6" height="24.8"/><rect x="304.8" y="1304.5" width="6.6" height="10.4"/><rect x="316.6" y="1294.9" width="6.6" height="20.0"/><rect x="328.4" y="1299.7" width="6.6" height="15.2"/><rect x="340.2" y="1304.5" width="6.6" height="10.4"/><rect x="352.0" y="1294.9" width="6.6" height="20.0"/><rect x="363.8" y="1304.5" width="6.6" height="10.4"/><rect x="375.6" y="1311.7" width="6.6" height="3.2"/><rect x="399.2" y="1299.7" width="6.6" height="15.2"/><rect x="422.8" y="1309.3" width="6.6" height="5.6"/><rect x="458.2" y="1309.3" width="6.6" height="5.6"/><rect x="517.2" y="1309.3" width="6.6" height="5.6"/><rect x="741.4" y="1309.3" width="6.6" height="5.6"/></g>
<g fill="#000"><rect x="801.6" y="1350.5" width="8.0" height="11.4"/><rect x="801.6" y="1415.0" width="18.7" height="11.4"/><rect x="801.6" y="1425.8" width="18.7" height="11.4"/><rect x="801.6" y="1436.5" width="18.7" height="11.4"/><rect x="801.6" y="1447.3" width="18.7" height="11.4"/><rect x="801.6" y="1458.1" width="34.7" height="11.4"/><rect x="801.6" y="1468.8" width="56.0" height="11.4"/><rect x="801.6" y="1479.6" width="56.0" height="11.4"/><rect x="801.6" y="1490.3" width="40.0" height="11.4"/><rect x="801.6" y="1501.1" width="66.7" height="11.4"/><rect x="801.6" y="1511.9" width="61.3" height="11.4"/><rect x="801.6" y="1522.6" width="93.3" height="11.4"/><rect x="801.6" y="1533.4" width="66.7" height="11.4"/><rect x="801.6" y="1544.1" width="77.3" height="11.4"/><rect x="801.6" y="1554.9" width="66.7" height="11.4"/><rect x="801.6" y="1565.7" width="111.4" height="11.4"/><rect x="801.6" y="1576.4" width="88.0" height="11.4"/><rect x="801.6" y="1587.2" width="77.3" height="11.4"/><rect x="801.6" y="1597.9" width="73.1" height="11.4"/><rect x="801.6" y="1608.7" width="51.7" height="11.4"/><rect x="801.6" y="1619.5" width="51.7" height="11.4"/><rect x="801.6" y="1630.2" width="29.3" height="11.4"/><rect x="801.6" y="1641.0" width="18.7" height="11.4"/><rect x="801.6" y="1651.7" width="24.0" height="11.4"/><rect x="801.6" y="1662.5" width="18.7" height="11.4"/><rect x="801.6" y="1673.3" width="40.0" height="11.4"/><rect x="801.6" y="1684.0" width="13.4" height="11.4"/><rect x="801.6" y="1694.8" width="13.4" height="11.4"/></g>
<g fill="#fe0000" stroke="#000" stroke-width="1.3"><rect x="802.5" y="1331.7" width="6.1" height="5.8"/><rect x="802.5" y="1342.5" width="11.5" height="5.8"/><rect x="802.5" y="1353.2" width="6.1" height="5.8"/><rect x="802.5" y="1374.8" width="11.5" height="5.8"/><rect x="802.5" y="1396.3" width="6.1" height="5.8"/><rect x="802.5" y="1407.0" width="6.1" height="5.8"/><rect x="802.5" y="1417.8" width="6.1" height="5.8"/><rect x="802.5" y="1428.6" width="16.8" height="5.8"/><rect x="802.5" y="1439.3" width="16.8" height="5.8"/><rect x="802.5" y="1450.1" width="54.1" height="5.8"/><rect x="802.5" y="1460.8" width="48.8" height="5.8"/><rect x="802.5" y="1471.6" width="80.8" height="5.8"/><rect x="802.5" y="1482.4" width="91.4" height="5.8"/><rect x="802.5" y="1493.1" width="80.8" height="5.8"/><rect x="802.5" y="1503.9" width="91.4" height="5.8"/><rect x="802.5" y="1514.6" width="91.4" height="5.8"/><rect x="802.5" y="1525.4" width="96.7" height="5.8"/><rect x="802.5" y="1536.2" width="64.8" height="5.8"/><rect x="802.5" y="1546.9" width="64.8" height="5.8"/><rect x="802.5" y="1557.7" width="59.4" height="5.8"/><rect x="802.5" y="1568.4" width="107.4" height="5.8"/><rect x="802.5" y="1579.2" width="59.4" height="5.8"/><rect x="802.5" y="1590.0" width="43.4" height="5.8"/><rect x="802.5" y="1600.7" width="70.1" height="5.8"/><rect x="802.5" y="1611.5" width="38.1" height="5.8"/><rect x="802.5" y="1622.2" width="6.1" height="5.8"/><rect x="802.5" y="1633.0" width="11.5" height="5.8"/><rect x="802.5" y="1643.8" width="11.5" height="5.8"/><rect x="802.5" y="1654.5" width="16.8" height="5.8"/><rect x="802.5" y="1665.3" width="11.5" height="5.8"/><rect x="802.5" y="1676.0" width="6.1" height="5.8"/><rect x="802.5" y="1686.8" width="11.5" height="5.8"/></g>
<g fill="#000"><circle cx="130.2" cy="1504.8" r="7.7"/><circle cx="201.7" cy="1522.7" r="7.7"/><circle cx="182.5" cy="1573.4" r="7.7"/><circle cx="161.4" cy="1491.2" r="7.7"/><circle cx="199.4" cy="1556.4" r="7.7"/><circle cx="225.2" cy="1601.9" r="7.7"/><circle cx="186.0" cy="1569.2" r="7.7"/><circle cx="208.1" cy="1524.7" r="7.7"/><circle cx="227.2" cy="1586.8" r="7.7"/><circle cx="199.5" cy="1597.9" r="7.7"/><circle cx="153.7" cy="1530.7" r="7.7"/><circle cx="224.7" cy="1604.4" r="7.7"/><circle cx="207.1" cy="1550.0" r="7.7"/><circle cx="138.8" cy="1514.9" r="7.7"/><circle cx="190.7" cy="1472.0" r="7.7"/><circle cx="163.6" cy="1535.2" r="7.7"/><circle cx="187.0" cy="1603.8" r="7.7"/><circle cx="216.2" cy="1590.0" r="7.7"/><circle cx="138.1" cy="1531.1" r="7.7"/><circle cx="206.3" cy="1591.9" r="7.7"/><circle cx="160.9" cy="1503.2" r="7.7"/><circle cx="148.2" cy="1600.5" r="7.7"/><circle cx="172.1" cy="1600.6" r="7.7"/><circle cx="227.0" cy="1604.0" r="7.7"/><circle cx="167.8" cy="1571.8" r="7.7"/><circle cx="182.2" cy="1600.8" r="7.7"/><circle cx="217.8" cy="1559.2" r="7.7"/><circle cx="204.7" cy="1539.0" r="7.7"/><circle cx="228.6" cy="1554.0" r="7.7"/><circle cx="191.5" cy="1474.1" r="7.7"/><circle cx="182.8" cy="1573.9" r="7.7"/><circle cx="162.5" cy="1583.2" r="7.7"/><circle cx="161.0" cy="1544.1" r="7.7"/><circle cx="180.5" cy="1460.7" r="7.7"/><circle cx="185.6" cy="1460.7" r="7.7"/><circle cx="169.2" cy="1530.7" r="7.7"/><circle cx="176.7" cy="1443.0" r="7.7"/><circle cx="192.8" cy="1578.6" r="7.7"/><circle cx="156.7" cy="1586.9" r="7.7"/><circle cx="207.5" cy="1564.7" r="7.7"/><circle cx="141.8" cy="1510.5" r="7.7"/><circle cx="153.5" cy="1548.3" r="7.7"/><circle cx="138.3" cy="1580.4" r="7.7"/><circle cx="229.7" cy="1540.9" r="7.7"/><circle cx="130.9" cy="1547.9" r="7.7"/><circle cx="181.0" cy="1522.7" r="7.7"/><circle cx="170.4" cy="1562.4" r="7.7"/><circle cx="149.8" cy="1578.0" r="7.7"/><circle cx="221.1" cy="1585.4" r="7.7"/><circle cx="165.7" cy="1612.4" r="7.7"/><circle cx="165.0" cy="1585.2" r="7.7"/><circle cx="181.3" cy="1580.3" r="7.7"/><circle cx="228.6" cy="1526.3" r="7.7"/><circle cx="191.9" cy="1489.9" r="7.7"/><circle cx="199.2" cy="1513.0" r="7.7"/><circle cx="173.2" cy="1606.0" r="7.7"/><circle cx="164.0" cy="1531.8" r="7.7"/><circle cx="208.1" cy="1542.7" r="7.7"/><circle cx="158.9" cy="1565.3" r="7.7"/><circle cx="201.1" cy="1593.1" r="7.7"/><circle cx="207.1" cy="1556.2" r="7.7"/><circle cx="159.6" cy="1581.3" r="7.7"/><circle cx="181.5" cy="1554.7" r="7.7"/><circle cx="191.2" cy="1456.0" r="7.7"/><circle cx="208.4" cy="1565.0" r="7.7"/><circle cx="130.9" cy="1533.8" r="7.7"/><circle cx="175.7" cy="1594.9" r="7.7"/><circle cx="193.1" cy="1572.9" r="7.7"/><circle cx="184.0" cy="1577.2" r="7.7"/><circle cx="224.3" cy="1530.9" r="7.7"/><circle cx="220.0" cy="1552.2" r="7.7"/><circle cx="147.6" cy="1519.6" r="7.7"/><circle cx="215.9" cy="1566.2" r="7.7"/><circle cx="200.4" cy="1500.1" r="7.7"/><circle cx="186.4" cy="1539.1" r="7.7"/><circle cx="188.9" cy="1511.1" r="7.7"/><circle cx="216.0" cy="1471.5" r="7.7"/><circle cx="188.5" cy="1493.8" r="7.7"/><circle cx="199.4" cy="1553.2" r="7.7"/><circle cx="143.8" cy="1567.3" r="7.7"/><circle cx="207.0" cy="1583.3" r="7.7"/><circle cx="204.9" cy="1611.4" r="7.7"/><circle cx="239.5" cy="1469.7" r="7.7"/><circle cx="210.3" cy="1526.9" r="7.7"/><circle cx="231.1" cy="1591.2" r="7.7"/><circle cx="206.7" cy="1472.1" r="7.7"/><circle cx="180.5" cy="1612.6" r="7.7"/><circle cx="206.5" cy="1573.2" r="7.7"/><circle cx="167.9" cy="1576.6" r="7.7"/><circle cx="157.8" cy="1530.1" r="7.7"/><circle cx="146.8" cy="1533.8" r="7.7"/><circle cx="201.0" cy="1569.8" r="7.7"/><circle cx="222.9" cy="1579.8" r="7.7"/><circle cx="231.8" cy="1595.8" r="7.7"/><circle cx="186.4" cy="1541.2" r="7.7"/><circle cx="204.1" cy="1524.6" r="7.7"/><circle cx="146.8" cy="1543.7" r="7.7"/><circle cx="168.2" cy="1479.5" r="7.7"/><circle cx="170.5" cy="1516.6" r="7.7"/><circle cx="138.8" cy="1596.0" r="7.7"/><circle cx="150.0" cy="1524.3" r="7.7"/><circle cx="217.3" cy="1492.5" r="7.7"/><circle cx="227.0" cy="1446.8" r="7.7"/><circle cx="180.4" cy="1556.8" r="7.7"/><circle cx="143.4" cy="1571.5" r="7.7"/><circle cx="163.7" cy="1445.5" r="7.7"/><circle cx="173.9" cy="1444.2" r="7.7"/><circle cx="196.8" cy="1440.9" r="7.7"/><circle cx="204.5" cy="1445.5" r="7.7"/><circle cx="171.4" cy="1470.9" r="7.7"/><circle cx="179.0" cy="1474.7" r="7.7"/><circle cx="224.8" cy="1467.1" r="7.7"/><circle cx="131.9" cy="1510.4" r="7.7"/><circle cx="149.7" cy="1506.6" r="7.7"/><circle cx="161.2" cy="1512.9" r="7.7"/><circle cx="171.4" cy="1514.2" r="7.7"/><circle cx="137.0" cy="1526.9" r="7.7"/><circle cx="156.1" cy="1535.8" r="7.7"/><circle cx="176.5" cy="1535.8" r="7.7"/><circle cx="133.2" cy="1547.3" r="7.7"/><circle cx="128.1" cy="1552.4" r="7.7"/><circle cx="156.1" cy="1549.8" r="7.7"/><circle cx="142.1" cy="1572.7" r="7.7"/><circle cx="219.7" cy="1557.5" r="7.7"/><circle cx="227.4" cy="1562.6" r="7.7"/><circle cx="214.7" cy="1570.2" r="7.7"/><circle cx="222.3" cy="1582.9" r="7.7"/><circle cx="233.7" cy="1577.8" r="7.7"/><circle cx="217.2" cy="1603.3" r="7.7"/><circle cx="142.1" cy="1598.2" r="7.7"/><circle cx="158.6" cy="1613.5" r="7.7"/><circle cx="204.5" cy="1621.1" r="7.7"/><circle cx="217.2" cy="1616.0" r="7.7"/><circle cx="170.1" cy="1632.6" r="7.7"/><circle cx="196.8" cy="1636.4" r="7.7"/><circle cx="222.3" cy="1633.8" r="7.7"/><circle cx="238.8" cy="1636.4" r="7.7"/><circle cx="243.9" cy="1588.0" r="7.7"/><circle cx="252.8" cy="1616.0" r="7.7"/><circle cx="184.1" cy="1623.7" r="7.7"/><circle cx="145.9" cy="1585.5" r="7.7"/><circle cx="159.8" cy="1357.0" r="7.7"/><circle cx="170.4" cy="1410.8" r="7.7"/><circle cx="226.6" cy="1418.1" r="7.7"/><circle cx="214.4" cy="1422.2" r="7.7"/><circle cx="174.5" cy="1422.2" r="7.7"/><circle cx="134.2" cy="1435.2" r="7.7"/><circle cx="305.3" cy="1434.0" r="7.7"/><circle cx="164.3" cy="1446.6" r="7.7"/><circle cx="173.7" cy="1444.6" r="7.7"/><circle cx="131.7" cy="1511.0" r="7.7"/><circle cx="109.3" cy="1654.8" r="7.7"/><circle cx="105.3" cy="1680.4" r="7.7"/><circle cx="120.7" cy="1673.1" r="7.7"/><circle cx="125.6" cy="1660.9" r="7.7"/><circle cx="138.2" cy="1657.6" r="7.7"/><circle cx="152.5" cy="1673.9" r="7.7"/><circle cx="164.3" cy="1682.1" r="7.7"/><circle cx="170.8" cy="1633.2" r="7.7"/><circle cx="192.0" cy="1685.3" r="7.7"/><circle cx="190.0" cy="1666.2" r="7.7"/><circle cx="194.0" cy="1651.5" r="7.7"/><circle cx="190.0" cy="1642.6" r="7.7"/><circle cx="198.1" cy="1636.5" r="7.7"/><circle cx="210.3" cy="1665.0" r="7.7"/><circle cx="224.6" cy="1657.6" r="7.7"/><circle cx="222.6" cy="1633.6" r="7.7"/><circle cx="221.3" cy="1695.5" r="7.7"/><circle cx="238.9" cy="1638.5" r="7.7"/><circle cx="256.0" cy="1621.4" r="7.7"/><circle cx="266.1" cy="1648.7" r="7.7"/><circle cx="310.1" cy="1640.5" r="7.7"/><circle cx="315.0" cy="1658.0" r="7.7"/><circle cx="324.4" cy="1595.7" r="7.7"/><circle cx="317.1" cy="1550.9" r="7.7"/><circle cx="327.2" cy="1620.2" r="7.7"/><circle cx="332.5" cy="1622.2" r="7.7"/><circle cx="350.9" cy="1614.0" r="7.7"/><circle cx="374.1" cy="1621.4" r="7.7"/><circle cx="391.6" cy="1605.1" r="7.7"/><circle cx="421.3" cy="1680.4" r="7.7"/><circle cx="451.5" cy="1676.0" r="7.7"/><circle cx="291.8" cy="1594.5" r="7.7"/><circle cx="297.9" cy="1587.6" r="7.7"/><circle cx="287.7" cy="1581.5" r="7.7"/><circle cx="266.1" cy="1584.7" r="7.7"/><circle cx="112.6" cy="1555.0" r="7.7"/><circle cx="115.4" cy="1573.3" r="7.7"/><circle cx="122.0" cy="1595.7" r="7.7"/><circle cx="128.9" cy="1607.9" r="7.7"/><circle cx="586.0" cy="1596.0" r="7.7"/><circle cx="597.0" cy="1681.0" r="7.7"/><circle cx="749.0" cy="1695.0" r="7.7"/></g>
<g fill="#fe0000" stroke="#000" stroke-width="1.3"><circle cx="229.0" cy="1479.3" r="7.1"/><circle cx="231.7" cy="1462.9" r="7.1"/><circle cx="265.6" cy="1509.7" r="7.1"/><circle cx="202.4" cy="1569.3" r="7.1"/><circle cx="152.1" cy="1565.7" r="7.1"/><circle cx="240.8" cy="1584.8" r="7.1"/><circle cx="219.6" cy="1587.7" r="7.1"/><circle cx="184.0" cy="1566.1" r="7.1"/><circle cx="190.6" cy="1449.9" r="7.1"/><circle cx="180.5" cy="1446.8" r="7.1"/><circle cx="247.5" cy="1563.0" r="7.1"/><circle cx="164.2" cy="1601.3" r="7.1"/><circle cx="152.8" cy="1496.9" r="7.1"/><circle cx="246.9" cy="1527.3" r="7.1"/><circle cx="242.9" cy="1607.6" r="7.1"/><circle cx="231.6" cy="1470.2" r="7.1"/><circle cx="196.1" cy="1521.2" r="7.1"/><circle cx="259.1" cy="1453.3" r="7.1"/><circle cx="209.1" cy="1481.4" r="7.1"/><circle cx="231.8" cy="1468.5" r="7.1"/><circle cx="167.8" cy="1544.1" r="7.1"/><circle cx="190.6" cy="1464.6" r="7.1"/><circle cx="185.1" cy="1584.7" r="7.1"/><circle cx="259.8" cy="1519.2" r="7.1"/><circle cx="225.0" cy="1474.1" r="7.1"/><circle cx="161.0" cy="1462.6" r="7.1"/><circle cx="251.8" cy="1576.1" r="7.1"/><circle cx="220.9" cy="1484.8" r="7.1"/><circle cx="164.1" cy="1473.8" r="7.1"/><circle cx="266.5" cy="1473.8" r="7.1"/><circle cx="201.7" cy="1497.1" r="7.1"/><circle cx="200.4" cy="1575.6" r="7.1"/><circle cx="260.9" cy="1507.3" r="7.1"/><circle cx="169.8" cy="1555.4" r="7.1"/><circle cx="205.1" cy="1482.0" r="7.1"/><circle cx="223.9" cy="1481.9" r="7.1"/><circle cx="193.3" cy="1525.0" r="7.1"/><circle cx="191.9" cy="1450.9" r="7.1"/><circle cx="151.8" cy="1514.5" r="7.1"/><circle cx="203.6" cy="1470.1" r="7.1"/><circle cx="192.9" cy="1502.0" r="7.1"/><circle cx="194.5" cy="1471.3" r="7.1"/><circle cx="261.1" cy="1451.5" r="7.1"/><circle cx="171.7" cy="1473.5" r="7.1"/><circle cx="240.0" cy="1498.4" r="7.1"/><circle cx="239.3" cy="1517.2" r="7.1"/><circle cx="227.1" cy="1481.7" r="7.1"/><circle cx="154.0" cy="1579.3" r="7.1"/><circle cx="179.8" cy="1499.7" r="7.1"/><circle cx="196.6" cy="1574.1" r="7.1"/><circle cx="186.5" cy="1575.1" r="7.1"/><circle cx="203.2" cy="1536.9" r="7.1"/><circle cx="172.4" cy="1463.6" r="7.1"/><circle cx="185.6" cy="1534.3" r="7.1"/><circle cx="203.2" cy="1606.8" r="7.1"/><circle cx="214.7" cy="1543.7" r="7.1"/><circle cx="252.8" cy="1536.3" r="7.1"/><circle cx="203.0" cy="1580.2" r="7.1"/><circle cx="262.2" cy="1453.4" r="7.1"/><circle cx="244.5" cy="1612.5" r="7.1"/><circle cx="227.0" cy="1576.7" r="7.1"/><circle cx="198.7" cy="1529.3" r="7.1"/><circle cx="266.3" cy="1533.4" r="7.1"/><circle cx="231.2" cy="1570.2" r="7.1"/><circle cx="207.6" cy="1559.5" r="7.1"/><circle cx="185.6" cy="1525.8" r="7.1"/><circle cx="205.2" cy="1555.9" r="7.1"/><circle cx="152.0" cy="1511.7" r="7.1"/><circle cx="234.6" cy="1573.9" r="7.1"/><circle cx="262.2" cy="1559.7" r="7.1"/><circle cx="228.4" cy="1509.7" r="7.1"/><circle cx="237.7" cy="1561.1" r="7.1"/><circle cx="189.7" cy="1517.8" r="7.1"/><circle cx="231.8" cy="1519.0" r="7.1"/><circle cx="206.5" cy="1462.0" r="7.1"/><circle cx="194.3" cy="1450.0" r="7.1"/><circle cx="207.0" cy="1452.6" r="7.1"/><circle cx="226.1" cy="1445.5" r="7.1"/><circle cx="232.5" cy="1451.8" r="7.1"/><circle cx="247.7" cy="1452.6" r="7.1"/><circle cx="182.8" cy="1463.3" r="7.1"/><circle cx="242.1" cy="1460.7" r="7.1"/><circle cx="196.8" cy="1469.6" r="7.1"/><circle cx="208.3" cy="1467.1" r="7.1"/><circle cx="226.1" cy="1474.7" r="7.1"/><circle cx="241.4" cy="1472.2" r="7.1"/><circle cx="250.8" cy="1474.0" r="7.1"/><circle cx="264.3" cy="1470.4" r="7.1"/><circle cx="276.3" cy="1468.9" r="7.1"/><circle cx="158.6" cy="1477.3" r="7.1"/><circle cx="151.5" cy="1482.4" r="7.1"/><circle cx="168.3" cy="1482.4" r="7.1"/><circle cx="181.6" cy="1484.9" r="7.1"/><circle cx="196.8" cy="1491.3" r="7.1"/><circle cx="210.1" cy="1491.8" r="7.1"/><circle cx="213.4" cy="1479.8" r="7.1"/><circle cx="225.3" cy="1483.6" r="7.1"/><circle cx="236.3" cy="1492.6" r="7.1"/><circle cx="243.9" cy="1488.2" r="7.1"/><circle cx="256.7" cy="1484.9" r="7.1"/><circle cx="265.1" cy="1488.2" r="7.1"/><circle cx="274.5" cy="1484.9" r="7.1"/><circle cx="147.2" cy="1491.3" r="7.1"/><circle cx="153.0" cy="1495.1" r="7.1"/><circle cx="165.0" cy="1498.4" r="7.1"/><circle cx="176.5" cy="1501.0" r="7.1"/><circle cx="181.6" cy="1508.6" r="7.1"/><circle cx="204.5" cy="1501.0" r="7.1"/><circle cx="217.2" cy="1503.5" r="7.1"/><circle cx="228.7" cy="1502.0" r="7.1"/><circle cx="241.4" cy="1502.7" r="7.1"/><circle cx="255.9" cy="1506.0" r="7.1"/><circle cx="268.1" cy="1502.0" r="7.1"/><circle cx="278.3" cy="1507.1" r="7.1"/><circle cx="200.7" cy="1512.9" r="7.1"/><circle cx="213.4" cy="1516.7" r="7.1"/><circle cx="226.1" cy="1515.5" r="7.1"/><circle cx="234.5" cy="1514.2" r="7.1"/><circle cx="247.2" cy="1520.6" r="7.1"/><circle cx="256.7" cy="1522.3" r="7.1"/><circle cx="267.6" cy="1522.3" r="7.1"/><circle cx="139.6" cy="1521.1" r="7.1"/><circle cx="146.7" cy="1518.0" r="7.1"/><circle cx="149.7" cy="1528.2" r="7.1"/><circle cx="162.5" cy="1529.0" r="7.1"/><circle cx="172.6" cy="1526.9" r="7.1"/><circle cx="190.5" cy="1530.7" r="7.1"/><circle cx="204.0" cy="1530.7" r="7.1"/><circle cx="235.0" cy="1528.2" r="7.1"/><circle cx="250.8" cy="1529.5" r="7.1"/><circle cx="228.7" cy="1535.8" r="7.1"/><circle cx="243.9" cy="1538.4" r="7.1"/><circle cx="234.5" cy="1544.2" r="7.1"/><circle cx="249.8" cy="1540.9" r="7.1"/><circle cx="214.7" cy="1539.7" r="7.1"/><circle cx="203.2" cy="1546.0" r="7.1"/><circle cx="218.5" cy="1544.7" r="7.1"/><circle cx="187.9" cy="1539.7" r="7.1"/><circle cx="145.2" cy="1544.0" r="7.1"/><circle cx="165.8" cy="1546.5" r="7.1"/><circle cx="187.9" cy="1548.6" r="7.1"/><circle cx="245.2" cy="1549.8" r="7.1"/><circle cx="256.2" cy="1554.9" r="7.1"/><circle cx="138.8" cy="1555.7" r="7.1"/><circle cx="187.9" cy="1558.7" r="7.1"/><circle cx="171.4" cy="1559.5" r="7.1"/><circle cx="236.3" cy="1560.0" r="7.1"/><circle cx="168.8" cy="1566.4" r="7.1"/><circle cx="189.2" cy="1567.7" r="7.1"/><circle cx="148.5" cy="1567.7" r="7.1"/><circle cx="205.7" cy="1568.9" r="7.1"/><circle cx="245.2" cy="1570.7" r="7.1"/><circle cx="260.5" cy="1572.2" r="7.1"/><circle cx="226.1" cy="1575.3" r="7.1"/><circle cx="177.7" cy="1574.0" r="7.1"/><circle cx="158.6" cy="1582.9" r="7.1"/><circle cx="191.7" cy="1581.7" r="7.1"/><circle cx="201.9" cy="1579.1" r="7.1"/><circle cx="238.8" cy="1579.9" r="7.1"/><circle cx="252.8" cy="1580.4" r="7.1"/><circle cx="172.6" cy="1589.3" r="7.1"/><circle cx="131.9" cy="1589.3" r="7.1"/><circle cx="204.5" cy="1593.1" r="7.1"/><circle cx="227.4" cy="1589.3" r="7.1"/><circle cx="229.9" cy="1595.7" r="7.1"/><circle cx="133.2" cy="1599.5" r="7.1"/><circle cx="179.0" cy="1599.5" r="7.1"/><circle cx="190.5" cy="1599.5" r="7.1"/><circle cx="163.7" cy="1602.0" r="7.1"/><circle cx="232.5" cy="1600.8" r="7.1"/><circle cx="218.5" cy="1602.0" r="7.1"/><circle cx="205.0" cy="1605.3" r="7.1"/><circle cx="151.5" cy="1608.4" r="7.1"/><circle cx="172.6" cy="1611.4" r="7.1"/><circle cx="185.4" cy="1612.2" r="7.1"/><circle cx="283.4" cy="1530.0" r="7.1"/><circle cx="164.3" cy="1330.5" r="7.1"/><circle cx="233.6" cy="1343.2" r="7.1"/><circle cx="228.7" cy="1350.1" r="7.1"/><circle cx="301.2" cy="1344.8" r="7.1"/><circle cx="183.9" cy="1380.7" r="7.1"/><circle cx="188.8" cy="1381.5" r="7.1"/><circle cx="204.2" cy="1399.8" r="7.1"/><circle cx="238.0" cy="1407.1" r="7.1"/><circle cx="295.9" cy="1414.5" r="7.1"/><circle cx="176.9" cy="1431.6" r="7.1"/><circle cx="193.2" cy="1428.3" r="7.1"/><circle cx="220.5" cy="1432.4" r="7.1"/><circle cx="242.1" cy="1435.6" r="7.1"/><circle cx="279.6" cy="1443.0" r="7.1"/><circle cx="290.2" cy="1445.0" r="7.1"/><circle cx="145.2" cy="1457.6" r="7.1"/><circle cx="160.7" cy="1455.2" r="7.1"/><circle cx="114.6" cy="1476.0" r="7.1"/><circle cx="308.1" cy="1467.8" r="7.1"/><circle cx="317.5" cy="1475.2" r="7.1"/><circle cx="326.4" cy="1473.1" r="7.1"/><circle cx="305.3" cy="1491.0" r="7.1"/><circle cx="341.1" cy="1487.4" r="7.1"/><circle cx="335.8" cy="1495.5" r="7.1"/><circle cx="354.1" cy="1509.4" r="7.1"/><circle cx="402.2" cy="1513.0" r="7.1"/><circle cx="110.5" cy="1513.0" r="7.1"/><circle cx="324.4" cy="1533.8" r="7.1"/><circle cx="284.9" cy="1524.8" r="7.1"/><circle cx="282.4" cy="1536.4" r="7.1"/><circle cx="278.4" cy="1506.9" r="7.1"/><circle cx="113.8" cy="1540.7" r="7.1"/><circle cx="109.3" cy="1565.2" r="7.1"/><circle cx="111.4" cy="1602.6" r="7.1"/><circle cx="133.8" cy="1616.9" r="7.1"/><circle cx="163.5" cy="1692.7" r="7.1"/><circle cx="183.9" cy="1662.1" r="7.1"/><circle cx="186.7" cy="1669.0" r="7.1"/><circle cx="207.5" cy="1689.4" r="7.1"/><circle cx="210.3" cy="1633.2" r="7.1"/><circle cx="238.0" cy="1677.2" r="7.1"/><circle cx="243.7" cy="1654.8" r="7.1"/><circle cx="245.8" cy="1620.2" r="7.1"/><circle cx="282.4" cy="1590.4" r="7.1"/><circle cx="303.2" cy="1613.2" r="7.1"/><circle cx="316.3" cy="1618.1" r="7.1"/><circle cx="344.8" cy="1643.4" r="7.1"/><circle cx="370.0" cy="1639.7" r="7.1"/><circle cx="407.1" cy="1650.7" r="7.1"/><circle cx="431.1" cy="1654.8" r="7.1"/><circle cx="381.4" cy="1612.0" r="7.1"/><circle cx="403.0" cy="1599.0" r="7.1"/><circle cx="351.7" cy="1603.9" r="7.1"/><circle cx="332.5" cy="1583.5" r="7.1"/><circle cx="333.4" cy="1572.5" r="7.1"/><circle cx="372.5" cy="1569.2" r="7.1"/><circle cx="351.7" cy="1552.1" r="7.1"/><circle cx="361.1" cy="1543.6" r="7.1"/><circle cx="295.1" cy="1574.5" r="7.1"/><circle cx="300.0" cy="1559.1" r="7.1"/><circle cx="286.5" cy="1562.3" r="7.1"/><circle cx="463.0" cy="1583.3" r="7.1"/><circle cx="750.0" cy="1599.0" r="7.1"/><circle cx="517.0" cy="1668.0" r="7.1"/></g>
<path d="M97.0 1167.7 V1742.3 H964.5" fill="none" stroke="#000" stroke-width="2"/>
<path d="M96.6 1290.1 h6" stroke="#6e6e6e" stroke-width="2"/><path d="M803.3 1290.1 h-6" stroke="#6e6e6e" stroke-width="2"/><path d="M96.6 1266.1 h12" stroke="#000" stroke-width="2"/><path d="M803.3 1266.1 h-12" stroke="#000" stroke-width="2"/><path d="M96.6 1242.1 h6" stroke="#6e6e6e" stroke-width="2"/><path d="M803.3 1242.1 h-6" stroke="#6e6e6e" stroke-width="2"/><path d="M96.6 1218.1 h12" stroke="#000" stroke-width="2"/><path d="M803.3 1218.1 h-12" stroke="#000" stroke-width="2"/><path d="M96.6 1194.1 h6" stroke="#6e6e6e" stroke-width="2"/><path d="M803.3 1194.1 h-6" stroke="#6e6e6e" stroke-width="2"/><path d="M96.6 1169.2 h13" stroke="#333" stroke-width="3.4"/><path d="M155.6 1169.2 v8" stroke="#555" stroke-width="1.8"/><path d="M155.6 1314.1 v-7" stroke="#3c3c3c" stroke-width="1.8"/><path d="M155.6 1742.3 v-6" stroke="#555" stroke-width="1.8"/><path d="M214.6 1169.2 v12" stroke="#111" stroke-width="1.8"/><path d="M214.6 1314.1 v-12" stroke="#3c3c3c" stroke-width="1.8"/><path d="M214.6 1742.3 v-11" stroke="#111" stroke-width="1.8"/><path d="M273.6 1169.2 v8" stroke="#555" stroke-width="1.8"/><path d="M273.6 1314.1 v-7" stroke="#3c3c3c" stroke-width="1.8"/><path d="M273.6 1742.3 v-6" stroke="#555" stroke-width="1.8"/><path d="M332.6 1169.2 v12" stroke="#111" stroke-width="1.8"/><path d="M332.6 1314.1 v-12" stroke="#3c3c3c" stroke-width="1.8"/><path d="M332.6 1742.3 v-11" stroke="#111" stroke-width="1.8"/><path d="M391.6 1169.2 v8" stroke="#555" stroke-width="1.8"/><path d="M391.6 1314.1 v-7" stroke="#3c3c3c" stroke-width="1.8"/><path d="M391.6 1742.3 v-6" stroke="#555" stroke-width="1.8"/><path d="M450.6 1169.2 v12" stroke="#111" stroke-width="1.8"/><path d="M450.6 1314.1 v-12" stroke="#3c3c3c" stroke-width="1.8"/><path d="M450.6 1742.3 v-11" stroke="#111" stroke-width="1.8"/><path d="M509.6 1169.2 v8" stroke="#555" stroke-width="1.8"/><path d="M509.6 1314.1 v-7" stroke="#3c3c3c" stroke-width="1.8"/><path d="M509.6 1742.3 v-6" stroke="#555" stroke-width="1.8"/><path d="M568.6 1169.2 v12" stroke="#111" stroke-width="1.8"/><path d="M568.6 1314.1 v-12" stroke="#3c3c3c" stroke-width="1.8"/><path d="M568.6 1742.3 v-11" stroke="#111" stroke-width="1.8"/><path d="M627.6 1169.2 v8" stroke="#555" stroke-width="1.8"/><path d="M627.6 1314.1 v-7" stroke="#3c3c3c" stroke-width="1.8"/><path d="M627.6 1742.3 v-6" stroke="#555" stroke-width="1.8"/><path d="M686.6 1169.2 v12" stroke="#111" stroke-width="1.8"/><path d="M686.6 1314.1 v-12" stroke="#3c3c3c" stroke-width="1.8"/><path d="M686.6 1742.3 v-11" stroke="#111" stroke-width="1.8"/><path d="M745.6 1169.2 v8" stroke="#555" stroke-width="1.8"/><path d="M745.6 1314.1 v-7" stroke="#3c3c3c" stroke-width="1.8"/><path d="M745.6 1742.3 v-6" stroke="#555" stroke-width="1.8"/><path d="M96.6 1720.8 h6" stroke="#6e6e6e" stroke-width="2"/><path d="M963.0 1722.0 h-6" stroke="#6e6e6e" stroke-width="2"/><path d="M96.6 1699.3 h12" stroke="#111" stroke-width="2"/><path d="M963.0 1700.5 h-12" stroke="#111" stroke-width="2"/><path d="M96.6 1677.7 h6" stroke="#6e6e6e" stroke-width="2"/><path d="M963.0 1678.9 h-6" stroke="#6e6e6e" stroke-width="2"/><path d="M96.6 1656.2 h12" stroke="#111" stroke-width="2"/><path d="M963.0 1657.4 h-12" stroke="#111" stroke-width="2"/><path d="M96.6 1634.7 h6" stroke="#6e6e6e" stroke-width="2"/><path d="M963.0 1635.9 h-6" stroke="#6e6e6e" stroke-width="2"/><path d="M96.6 1613.2 h12" stroke="#111" stroke-width="2"/><path d="M963.0 1614.4 h-12" stroke="#111" stroke-width="2"/><path d="M96.6 1591.7 h6" stroke="#6e6e6e" stroke-width="2"/><path d="M963.0 1592.9 h-6" stroke="#6e6e6e" stroke-width="2"/><path d="M96.6 1570.1 h12" stroke="#111" stroke-width="2"/><path d="M963.0 1571.3 h-12" stroke="#111" stroke-width="2"/><path d="M96.6 1548.6 h6" stroke="#6e6e6e" stroke-width="2"/><path d="M963.0 1549.8 h-6" stroke="#6e6e6e" stroke-width="2"/><path d="M96.6 1527.1 h12" stroke="#111" stroke-width="2"/><path d="M963.0 1528.3 h-12" stroke="#111" stroke-width="2"/><path d="M96.6 1505.6 h6" stroke="#6e6e6e" stroke-width="2"/><path d="M963.0 1506.8 h-6" stroke="#6e6e6e" stroke-width="2"/><path d="M96.6 1484.1 h12" stroke="#111" stroke-width="2"/><path d="M963.0 1485.3 h-12" stroke="#111" stroke-width="2"/><path d="M96.6 1462.5 h6" stroke="#6e6e6e" stroke-width="2"/><path d="M963.0 1463.7 h-6" stroke="#6e6e6e" stroke-width="2"/><path d="M96.6 1441.0 h12" stroke="#111" stroke-width="2"/><path d="M963.0 1442.2 h-12" stroke="#111" stroke-width="2"/><path d="M96.6 1419.5 h6" stroke="#6e6e6e" stroke-width="2"/><path d="M963.0 1420.7 h-6" stroke="#6e6e6e" stroke-width="2"/><path d="M96.6 1398.0 h12" stroke="#111" stroke-width="2"/><path d="M963.0 1399.2 h-12" stroke="#111" stroke-width="2"/><path d="M96.6 1376.5 h6" stroke="#6e6e6e" stroke-width="2"/><path d="M963.0 1377.7 h-6" stroke="#6e6e6e" stroke-width="2"/><path d="M96.6 1354.9 h12" stroke="#111" stroke-width="2"/><path d="M963.0 1356.1 h-12" stroke="#111" stroke-width="2"/><path d="M96.6 1333.4 h6" stroke="#6e6e6e" stroke-width="2"/><path d="M963.0 1334.6 h-6" stroke="#6e6e6e" stroke-width="2"/><path d="M829.9 1314.1 v6" stroke="#6e6e6e" stroke-width="2"/><path d="M829.9 1742.3 v-6" stroke="#6e6e6e" stroke-width="2"/><path d="M856.6 1314.1 v11" stroke="#6e6e6e" stroke-width="2"/><path d="M856.6 1742.3 v-11" stroke="#444" stroke-width="2"/><path d="M883.2 1314.1 v6" stroke="#6e6e6e" stroke-width="2"/><path d="M883.2 1742.3 v-6" stroke="#6e6e6e" stroke-width="2"/><path d="M909.9 1314.1 v11" stroke="#6e6e6e" stroke-width="2"/><path d="M909.9 1742.3 v-11" stroke="#444" stroke-width="2"/><path d="M936.5 1314.1 v6" stroke="#6e6e6e" stroke-width="2"/><path d="M936.5 1742.3 v-6" stroke="#6e6e6e" stroke-width="2"/>
<g opacity="0.999">
<text transform="translate(9.00 33.58) scale(0.8695 1)" font-family="Liberation Sans" font-weight="400" font-size="46.16" stroke="#000" stroke-width="2.31" stroke-linejoin="round">A</text>
<text transform="translate(9.52 354.90) scale(0.8799 1)" font-family="Liberation Sans" font-weight="400" font-size="45.07" stroke="#000" stroke-width="2.25" stroke-linejoin="round">B</text>
<text transform="translate(8.80 799.24) scale(0.7575 1)" font-family="Liberation Sans" font-weight="400" font-size="48.53" stroke="#000" stroke-width="2.43" stroke-linejoin="round">C</text>
<text transform="translate(9.38 1141.91) scale(0.9441 1)" font-family="Liberation Sans" font-weight="400" font-size="44.52" stroke="#000" stroke-width="2.23" stroke-linejoin="round">D</text>
<text transform="translate(225.47 35.73) scale(0.8302 1)" font-family="Liberation Sans" font-weight="700" font-size="37.04">CTR</text>
<text transform="translate(754.59 35.90) scale(0.9833 1)" font-family="Liberation Sans" font-weight="700" font-size="37.97">IMY</text>
<text transform="translate(453.85 257.81) scale(0.8909 1)" font-family="Liberation Sans" font-weight="700" font-size="39.29">5 pA/pF</text>
<text transform="translate(457.76 338.48) scale(0.9823 1)" font-family="Liberation Sans" font-weight="700" font-size="31.83">25 ms</text>
<text transform="translate(475.17 406.04) scale(1.2076 1)" font-family="Liberation Serif" font-weight="700" font-size="22.14" stroke="#000" stroke-width="0.66" stroke-linejoin="round">8</text>
<text transform="translate(473.94 647.13) scale(1.2486 1)" font-family="Liberation Serif" font-weight="700" font-size="22.29" stroke="#000" stroke-width="0.67" stroke-linejoin="round">0</text>
<text transform="translate(37.94 498.10) scale(0.8911 1)" font-family="Liberation Sans" font-weight="700" font-size="29.13">1</text>
<text transform="translate(37.27 583.10) scale(1.0067 1)" font-family="Liberation Sans" font-weight="700" font-size="27.57">2</text>
<text transform="translate(36.00 609.40) scale(1.0020 1)" font-family="Liberation Sans" font-weight="700" font-size="30.14">3</text>
<text transform="translate(557.13 454.40) scale(0.8939 1)" font-family="Liberation Sans" font-weight="700" font-size="29.28">1</text>
<text transform="translate(556.46 576.30) scale(0.9689 1)" font-family="Liberation Sans" font-weight="700" font-size="28.86">2</text>
<text transform="translate(555.19 629.09) scale(0.9811 1)" font-family="Liberation Sans" font-weight="700" font-size="30.99">3</text>
<text transform="translate(440.89 737.20) scale(0.9880 1)" font-family="Liberation Sans" font-weight="700" font-size="30.57">2</text>
<text transform="translate(464.80 736.89) scale(1.0609 1)" font-family="Liberation Serif" font-weight="700" font-size="31.47" stroke="#000" stroke-width="0.63" stroke-linejoin="round">Δ</text>
<text transform="translate(487.89 736.61) scale(0.7466 1)" font-family="Liberation Sans" font-weight="400" font-size="29.32" stroke="#000" stroke-width="1.03" stroke-linejoin="round">F</text>
<text transform="translate(518.93 736.61) scale(0.7209 1)" font-family="Liberation Sans" font-weight="400" font-size="29.32" stroke="#000" stroke-width="1.03" stroke-linejoin="round">F</text>
<text transform="translate(534.58 746.80) scale(1.0141 1)" font-family="Liberation Sans" font-weight="700" font-size="20.14">0</text>
<text transform="translate(58.74 815.80) scale(0.9293 1)" font-family="Liberation Sans" font-weight="700" font-size="31.59">1</text>
<text transform="translate(58.06 929.80) scale(1.0026 1)" font-family="Liberation Sans" font-weight="700" font-size="31.14">2</text>
<text transform="translate(58.34 1032.98) scale(1.0396 1)" font-family="Liberation Sans" font-weight="700" font-size="31.55">3</text>
<text transform="translate(583.65 816.00) scale(1.0137 1)" font-family="Liberation Sans" font-weight="700" font-size="30.43">1</text>
<text transform="translate(583.02 928.50) scale(1.0884 1)" font-family="Liberation Sans" font-weight="700" font-size="30.00">2</text>
<text transform="translate(583.34 1033.68) scale(1.0413 1)" font-family="Liberation Sans" font-weight="700" font-size="31.69">3</text>
<text transform="translate(54.70 1180.27) scale(1.2439 1)" font-family="Liberation Serif" font-weight="700" font-size="24.29" stroke="#000" stroke-width="0.73" stroke-linejoin="round">30</text>
<text transform="translate(54.38 1229.66) scale(1.2424 1)" font-family="Liberation Serif" font-weight="700" font-size="24.57" stroke="#000" stroke-width="0.74" stroke-linejoin="round">20</text>
<text transform="translate(55.22 1277.27) scale(1.2146 1)" font-family="Liberation Serif" font-weight="700" font-size="24.43" stroke="#000" stroke-width="0.73" stroke-linejoin="round">10</text>
<text transform="translate(68.42 1324.57) scale(1.1905 1)" font-family="Liberation Serif" font-weight="700" font-size="24.29" stroke="#000" stroke-width="0.73" stroke-linejoin="round">0</text>
<text transform="translate(47.53 1750.96) scale(1.1503 1)" font-family="Liberation Serif" font-weight="700" font-size="24.57" stroke="#000" stroke-width="0.74" stroke-linejoin="round">0.0</text>
<text transform="translate(47.53 1707.92) scale(1.1599 1)" font-family="Liberation Serif" font-weight="700" font-size="24.57" stroke="#000" stroke-width="0.74" stroke-linejoin="round">0.2</text>
<text transform="translate(47.51 1664.88) scale(1.1978 1)" font-family="Liberation Serif" font-weight="700" font-size="24.57" stroke="#000" stroke-width="0.74" stroke-linejoin="round">0.4</text>
<text transform="translate(47.54 1621.84) scale(1.1409 1)" font-family="Liberation Serif" font-weight="700" font-size="24.57" stroke="#000" stroke-width="0.74" stroke-linejoin="round">0.6</text>
<text transform="translate(47.53 1578.80) scale(1.1503 1)" font-family="Liberation Serif" font-weight="700" font-size="24.57" stroke="#000" stroke-width="0.74" stroke-linejoin="round">0.8</text>
<text transform="translate(47.94 1535.76) scale(1.1367 1)" font-family="Liberation Serif" font-weight="700" font-size="24.57" stroke="#000" stroke-width="0.74" stroke-linejoin="round">1.0</text>
<text transform="translate(47.93 1492.96) scale(1.1302 1)" font-family="Liberation Serif" font-weight="700" font-size="24.93" stroke="#000" stroke-width="0.75" stroke-linejoin="round">1.2</text>
<text transform="translate(47.86 1449.92) scale(1.1695 1)" font-family="Liberation Serif" font-weight="700" font-size="24.93" stroke="#000" stroke-width="0.75" stroke-linejoin="round">1.4</text>
<text transform="translate(47.96 1406.64) scale(1.1270 1)" font-family="Liberation Serif" font-weight="700" font-size="24.57" stroke="#000" stroke-width="0.74" stroke-linejoin="round">1.6</text>
<text transform="translate(47.94 1363.60) scale(1.1367 1)" font-family="Liberation Serif" font-weight="700" font-size="24.57" stroke="#000" stroke-width="0.74" stroke-linejoin="round">1.8</text>
<text transform="translate(91.21 1775.08) scale(1.2393 1)" font-family="Liberation Serif" font-weight="700" font-size="23.86" stroke="#000" stroke-width="0.72" stroke-linejoin="round">0</text>
<text transform="translate(209.34 1775.31) scale(1.0315 1)" font-family="Liberation Serif" font-weight="700" font-size="24.56" stroke="#000" stroke-width="0.74" stroke-linejoin="round">5</text>
<text transform="translate(323.39 1775.08) scale(1.2022 1)" font-family="Liberation Serif" font-weight="700" font-size="23.86" stroke="#000" stroke-width="0.72" stroke-linejoin="round">10</text>
<text transform="translate(441.40 1775.32) scale(1.1805 1)" font-family="Liberation Serif" font-weight="700" font-size="24.20" stroke="#000" stroke-width="0.73" stroke-linejoin="round">15</text>
<text transform="translate(559.10 1775.08) scale(1.2531 1)" font-family="Liberation Serif" font-weight="700" font-size="23.86" stroke="#000" stroke-width="0.72" stroke-linejoin="round">20</text>
<text transform="translate(677.35 1775.32) scale(1.1656 1)" font-family="Liberation Serif" font-weight="700" font-size="24.20" stroke="#000" stroke-width="0.73" stroke-linejoin="round">25</text>
<text transform="translate(798.92 1775.37) scale(1.1995 1)" font-family="Liberation Serif" font-weight="700" font-size="24.29" stroke="#000" stroke-width="0.73" stroke-linejoin="round">0</text>
<text transform="translate(846.33 1775.37) scale(1.2172 1)" font-family="Liberation Serif" font-weight="700" font-size="24.29" stroke="#000" stroke-width="0.73" stroke-linejoin="round">10</text>
<text transform="translate(899.09 1775.37) scale(1.2526 1)" font-family="Liberation Serif" font-weight="700" font-size="24.29" stroke="#000" stroke-width="0.73" stroke-linejoin="round">20</text>
<text transform="translate(952.20 1775.37) scale(1.2353 1)" font-family="Liberation Serif" font-weight="700" font-size="24.29" stroke="#000" stroke-width="0.73" stroke-linejoin="round">30</text>
<text transform="translate(833.98 1821.47) scale(0.9340 1)" font-family="Liberation Sans" font-weight="700" font-size="32.54">Count</text>
<text transform="translate(385.99 1821.30) scale(0.9241 1)" font-family="Liberation Sans" font-weight="700" font-size="32.61">Latency (ms)</text>
<text transform="translate(25.94 1614.84) rotate(-90) scale(0.9259 1)" font-family="Liberation Sans" font-weight="700" font-size="33.97">Amplitude</text>
<text transform="translate(24.98 1298.11) rotate(-90) scale(0.9367 1)" font-family="Liberation Sans" font-weight="700" font-size="32.25">Count</text>
</g>
</svg></body></html>
